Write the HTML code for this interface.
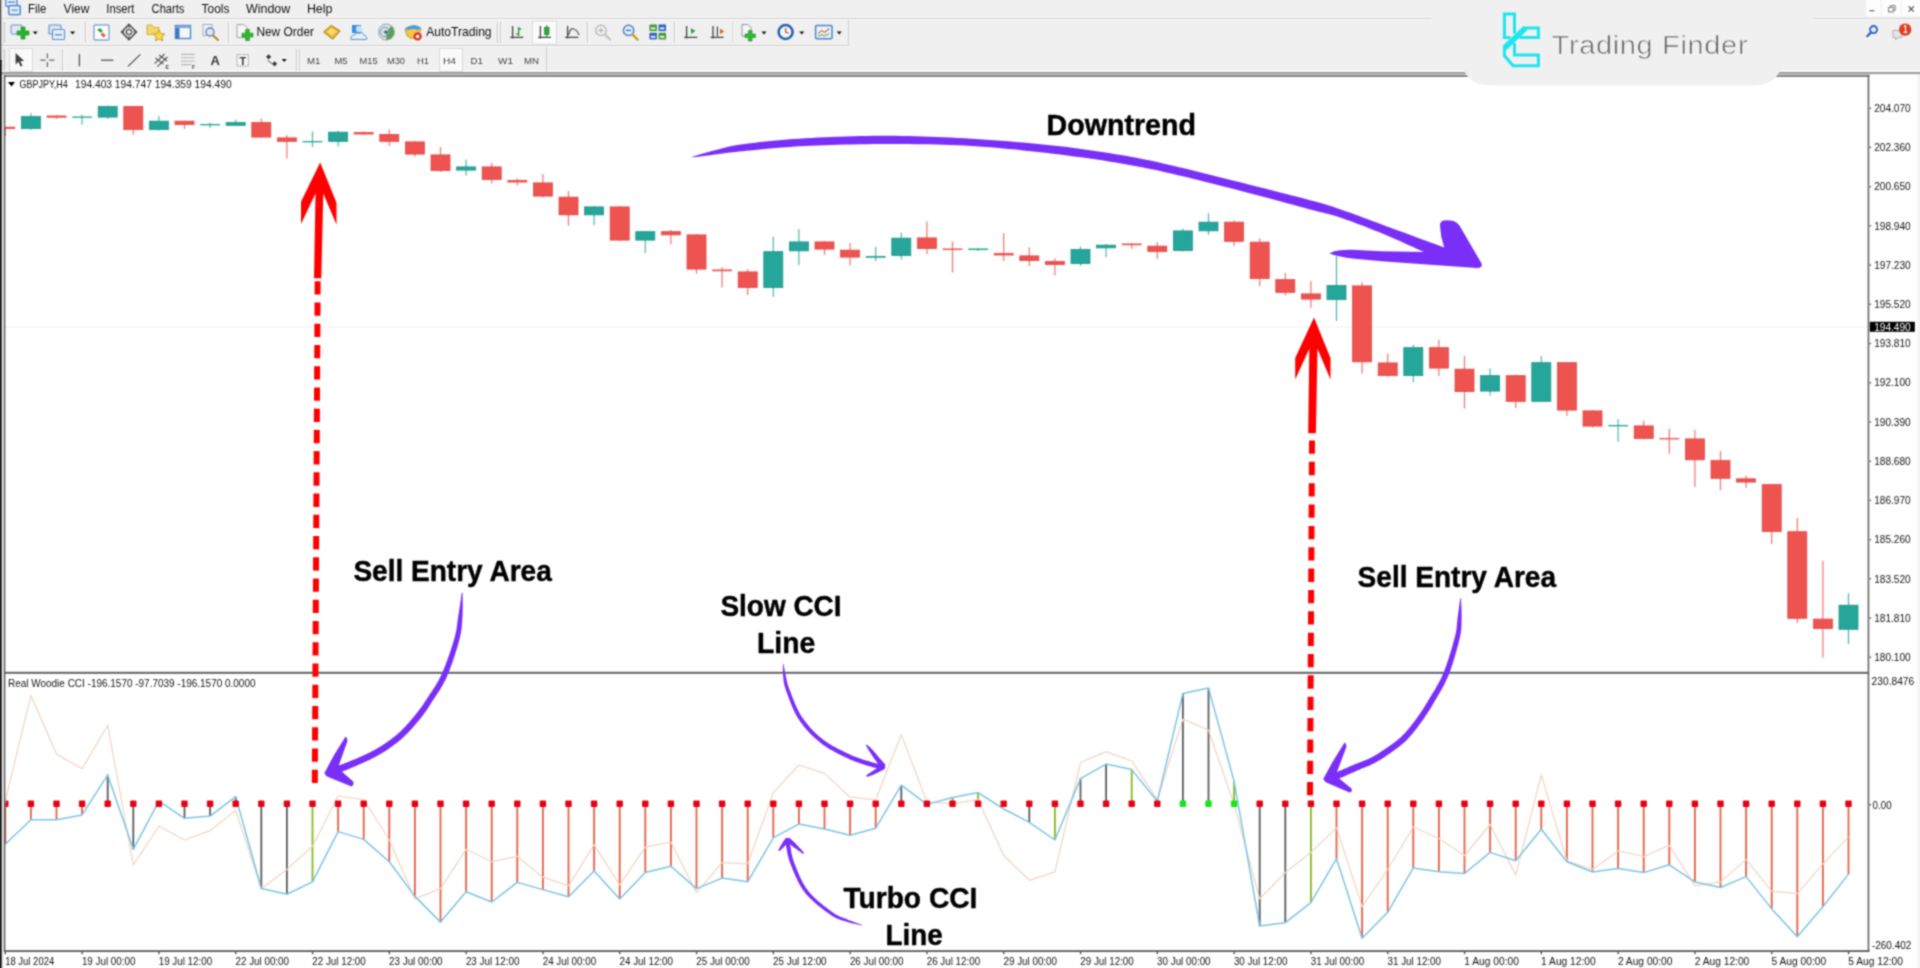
<!DOCTYPE html>
<html><head><meta charset="utf-8"><title>GBPJPY H4 - Real Woodie CCI</title>
<style>
html,body{margin:0;padding:0;background:#f0f0f0;overflow:hidden;}
body{width:1920px;height:968px;position:relative;font-family:"Liberation Sans",sans-serif;}
svg{position:absolute;left:0;top:0;display:block;}
svg text{font-family:"Liberation Sans",sans-serif;}
</style></head><body>
<svg width="1920" height="968" viewBox="0 0 1920 968">
<defs><filter id="soft" x="0" y="0" width="1920" height="968" filterUnits="userSpaceOnUse" color-interpolation-filters="sRGB"><feConvolveMatrix order="3" kernelMatrix="1 2 1 2 6 2 1 2 1" divisor="18" edgeMode="duplicate" preserveAlpha="true"/></filter></defs>
<g filter="url(#soft)">
<rect x="0" y="0" width="1920" height="968" fill="#f0f0f0"/>
<rect x="1869" y="74" width="48.6" height="894" fill="#fefefe"/>
<rect x="1917.6" y="74" width="2.4" height="894" fill="#f3f3f3"/>
<rect x="3.4" y="952" width="1914.2" height="16" fill="#fefefe"/>
<rect x="1.6" y="20" width="2.2" height="948" fill="#e9e9e9"/>
<rect x="5" y="76" width="1864" height="876" fill="#fff"/>
<rect x="5" y="326.6" width="1864" height="1" fill="#f1f1f1"/>
<rect x="4.7" y="126.75" width="1.2" height="9.25" fill="#ef5350" opacity=".82"/>
<rect x="5.5" y="126.75" width="9.7" height="2.25" fill="#ef5350"/>
<rect x="30.3" y="113" width="1.2" height="17" fill="#26a69a" opacity=".82"/>
<rect x="21.4" y="116.4" width="19" height="12.2" fill="#26a69a" stroke="#1f968b" stroke-width=".8"/>
<rect x="55.9" y="115" width="1.2" height="4" fill="#ef5350" opacity=".82"/>
<rect x="46.6" y="115.5" width="19.8" height="2.25" fill="#ef5350"/>
<rect x="81.5" y="114.75" width="1.2" height="10" fill="#26a69a" opacity=".82"/>
<rect x="72.2" y="116.5" width="19.8" height="1.35" fill="#26a69a"/>
<rect x="107.1" y="105.5" width="1.2" height="13.5" fill="#26a69a" opacity=".82"/>
<rect x="98.2" y="106.4" width="19" height="10.7" fill="#26a69a" stroke="#1f968b" stroke-width=".8"/>
<rect x="132.7" y="106" width="1.2" height="28.75" fill="#ef5350" opacity=".82"/>
<rect x="123.8" y="106.4" width="19" height="23.2" fill="#ef5350" stroke="#dc4946" stroke-width=".8"/>
<rect x="158.3" y="116" width="1.2" height="14.5" fill="#26a69a" opacity=".82"/>
<rect x="149.4" y="121.15" width="19" height="8.45" fill="#26a69a" stroke="#1f968b" stroke-width=".8"/>
<rect x="183.9" y="120.75" width="1.2" height="8.25" fill="#ef5350" opacity=".82"/>
<rect x="175" y="121.15" width="19" height="3.45" fill="#ef5350" stroke="#dc4946" stroke-width=".8"/>
<rect x="209.5" y="122.5" width="1.2" height="5.5" fill="#26a69a" opacity=".82"/>
<rect x="200.2" y="124" width="19.8" height="1.35" fill="#26a69a"/>
<rect x="235.1" y="119.5" width="1.2" height="6.25" fill="#26a69a" opacity=".82"/>
<rect x="226.2" y="122.4" width="19" height="2.95" fill="#26a69a" stroke="#1f968b" stroke-width=".8"/>
<rect x="260.7" y="118.5" width="1.2" height="19" fill="#ef5350" opacity=".82"/>
<rect x="251.8" y="122.4" width="19" height="14.7" fill="#ef5350" stroke="#dc4946" stroke-width=".8"/>
<rect x="286.3" y="135" width="1.2" height="23.5" fill="#ef5350" opacity=".82"/>
<rect x="277.4" y="137.9" width="19" height="3.45" fill="#ef5350" stroke="#dc4946" stroke-width=".8"/>
<rect x="311.9" y="131.5" width="1.2" height="15.5" fill="#26a69a" opacity=".82"/>
<rect x="302.6" y="141" width="19.8" height="1.35" fill="#26a69a"/>
<rect x="337.5" y="131" width="1.2" height="15.5" fill="#26a69a" opacity=".82"/>
<rect x="328.6" y="132.15" width="19" height="9.2" fill="#26a69a" stroke="#1f968b" stroke-width=".8"/>
<rect x="363.1" y="131.5" width="1.2" height="3.5" fill="#ef5350" opacity=".82"/>
<rect x="353.8" y="132" width="19.8" height="2.5" fill="#ef5350"/>
<rect x="388.7" y="129.5" width="1.2" height="16.5" fill="#ef5350" opacity=".82"/>
<rect x="379.8" y="134.4" width="19" height="6.95" fill="#ef5350" stroke="#dc4946" stroke-width=".8"/>
<rect x="414.3" y="141" width="1.2" height="15.5" fill="#ef5350" opacity=".82"/>
<rect x="405.4" y="141.9" width="19" height="12.2" fill="#ef5350" stroke="#dc4946" stroke-width=".8"/>
<rect x="439.9" y="147" width="1.2" height="25" fill="#ef5350" opacity=".82"/>
<rect x="431" y="154.9" width="19" height="15.7" fill="#ef5350" stroke="#dc4946" stroke-width=".8"/>
<rect x="465.5" y="159.5" width="1.2" height="16" fill="#26a69a" opacity=".82"/>
<rect x="456.6" y="166.9" width="19" height="3.2" fill="#26a69a" stroke="#1f968b" stroke-width=".8"/>
<rect x="491.1" y="162.75" width="1.2" height="20.75" fill="#ef5350" opacity=".82"/>
<rect x="482.2" y="166.9" width="19" height="12.7" fill="#ef5350" stroke="#dc4946" stroke-width=".8"/>
<rect x="516.7" y="178.5" width="1.2" height="7" fill="#ef5350" opacity=".82"/>
<rect x="507.4" y="180" width="19.8" height="2.5" fill="#ef5350"/>
<rect x="542.3" y="174" width="1.2" height="23.5" fill="#ef5350" opacity=".82"/>
<rect x="533.4" y="182.9" width="19" height="13.2" fill="#ef5350" stroke="#dc4946" stroke-width=".8"/>
<rect x="567.9" y="191" width="1.2" height="34.5" fill="#ef5350" opacity=".82"/>
<rect x="559" y="197.15" width="19" height="17.7" fill="#ef5350" stroke="#dc4946" stroke-width=".8"/>
<rect x="593.5" y="206" width="1.2" height="19" fill="#26a69a" opacity=".82"/>
<rect x="584.6" y="206.9" width="19" height="7.95" fill="#26a69a" stroke="#1f968b" stroke-width=".8"/>
<rect x="619.1" y="206" width="1.2" height="35" fill="#ef5350" opacity=".82"/>
<rect x="610.2" y="206.9" width="19" height="33.2" fill="#ef5350" stroke="#dc4946" stroke-width=".8"/>
<rect x="644.7" y="231" width="1.2" height="22" fill="#26a69a" opacity=".82"/>
<rect x="635.8" y="231.65" width="19" height="8.45" fill="#26a69a" stroke="#1f968b" stroke-width=".8"/>
<rect x="670.3" y="229.75" width="1.2" height="14.5" fill="#ef5350" opacity=".82"/>
<rect x="661.4" y="231.65" width="19" height="3.2" fill="#ef5350" stroke="#dc4946" stroke-width=".8"/>
<rect x="695.9" y="234" width="1.2" height="39.5" fill="#ef5350" opacity=".82"/>
<rect x="687" y="234.9" width="19" height="34.2" fill="#ef5350" stroke="#dc4946" stroke-width=".8"/>
<rect x="721.5" y="267.25" width="1.2" height="20.25" fill="#ef5350" opacity=".82"/>
<rect x="712.2" y="269.5" width="19.8" height="1.75" fill="#ef5350"/>
<rect x="747.1" y="269" width="1.2" height="26" fill="#ef5350" opacity=".82"/>
<rect x="738.2" y="271.9" width="19" height="15.7" fill="#ef5350" stroke="#dc4946" stroke-width=".8"/>
<rect x="772.7" y="236.75" width="1.2" height="60.25" fill="#26a69a" opacity=".82"/>
<rect x="763.8" y="251.65" width="19" height="35.95" fill="#26a69a" stroke="#1f968b" stroke-width=".8"/>
<rect x="798.3" y="229" width="1.2" height="36" fill="#26a69a" opacity=".82"/>
<rect x="789.4" y="241.9" width="19" height="8.95" fill="#26a69a" stroke="#1f968b" stroke-width=".8"/>
<rect x="823.9" y="241" width="1.2" height="14" fill="#ef5350" opacity=".82"/>
<rect x="815" y="241.9" width="19" height="7.2" fill="#ef5350" stroke="#dc4946" stroke-width=".8"/>
<rect x="849.5" y="243" width="1.2" height="22.5" fill="#ef5350" opacity=".82"/>
<rect x="840.6" y="250.15" width="19" height="6.95" fill="#ef5350" stroke="#dc4946" stroke-width=".8"/>
<rect x="875.1" y="246.75" width="1.2" height="14.25" fill="#26a69a" opacity=".82"/>
<rect x="865.8" y="256" width="19.8" height="1.75" fill="#26a69a"/>
<rect x="900.7" y="232.75" width="1.2" height="26.75" fill="#26a69a" opacity=".82"/>
<rect x="891.8" y="238.15" width="19" height="17.45" fill="#26a69a" stroke="#1f968b" stroke-width=".8"/>
<rect x="926.3" y="221.5" width="1.2" height="32.5" fill="#ef5350" opacity=".82"/>
<rect x="917.4" y="237.9" width="19" height="10.7" fill="#ef5350" stroke="#dc4946" stroke-width=".8"/>
<rect x="951.9" y="241.5" width="1.2" height="31" fill="#ef5350" opacity=".82"/>
<rect x="942.6" y="248.5" width="19.8" height="1.5" fill="#ef5350"/>
<rect x="977.5" y="247.75" width="1.2" height="3.25" fill="#26a69a" opacity=".82"/>
<rect x="968.2" y="248.5" width="19.8" height="1.5" fill="#26a69a"/>
<rect x="1003.1" y="233" width="1.2" height="28" fill="#ef5350" opacity=".82"/>
<rect x="993.8" y="253" width="19.8" height="2.5" fill="#ef5350"/>
<rect x="1028.7" y="247.25" width="1.2" height="18.75" fill="#ef5350" opacity=".82"/>
<rect x="1019.8" y="255.9" width="19" height="4.7" fill="#ef5350" stroke="#dc4946" stroke-width=".8"/>
<rect x="1054.3" y="258.5" width="1.2" height="17" fill="#ef5350" opacity=".82"/>
<rect x="1045.4" y="261.4" width="19" height="3.2" fill="#ef5350" stroke="#dc4946" stroke-width=".8"/>
<rect x="1079.9" y="246.5" width="1.2" height="19.5" fill="#26a69a" opacity=".82"/>
<rect x="1071" y="249.4" width="19" height="14.2" fill="#26a69a" stroke="#1f968b" stroke-width=".8"/>
<rect x="1105.5" y="244" width="1.2" height="13" fill="#26a69a" opacity=".82"/>
<rect x="1096.6" y="245.15" width="19" height="2.7" fill="#26a69a" stroke="#1f968b" stroke-width=".8"/>
<rect x="1131.1" y="243" width="1.2" height="6" fill="#ef5350" opacity=".82"/>
<rect x="1121.8" y="243.5" width="19.8" height="1.75" fill="#ef5350"/>
<rect x="1156.7" y="242" width="1.2" height="17" fill="#ef5350" opacity=".82"/>
<rect x="1147.8" y="246.15" width="19" height="5.45" fill="#ef5350" stroke="#dc4946" stroke-width=".8"/>
<rect x="1182.3" y="228.5" width="1.2" height="23" fill="#26a69a" opacity=".82"/>
<rect x="1173.4" y="230.9" width="19" height="19.7" fill="#26a69a" stroke="#1f968b" stroke-width=".8"/>
<rect x="1207.9" y="213.5" width="1.2" height="21.25" fill="#26a69a" opacity=".82"/>
<rect x="1199" y="222.15" width="19" height="8.7" fill="#26a69a" stroke="#1f968b" stroke-width=".8"/>
<rect x="1233.5" y="220.5" width="1.2" height="25.5" fill="#ef5350" opacity=".82"/>
<rect x="1224.6" y="222.15" width="19" height="19.2" fill="#ef5350" stroke="#dc4946" stroke-width=".8"/>
<rect x="1259.1" y="238.5" width="1.2" height="47.5" fill="#ef5350" opacity=".82"/>
<rect x="1250.2" y="242.15" width="19" height="36.45" fill="#ef5350" stroke="#dc4946" stroke-width=".8"/>
<rect x="1284.7" y="273" width="1.2" height="22.5" fill="#ef5350" opacity=".82"/>
<rect x="1275.8" y="279.65" width="19" height="12.7" fill="#ef5350" stroke="#dc4946" stroke-width=".8"/>
<rect x="1310.3" y="281" width="1.2" height="27" fill="#ef5350" opacity=".82"/>
<rect x="1301.4" y="293.9" width="19" height="5.2" fill="#ef5350" stroke="#dc4946" stroke-width=".8"/>
<rect x="1335.9" y="256" width="1.2" height="65" fill="#26a69a" opacity=".82"/>
<rect x="1327" y="285.4" width="19" height="14.2" fill="#26a69a" stroke="#1f968b" stroke-width=".8"/>
<rect x="1361.5" y="282.25" width="1.2" height="91.25" fill="#ef5350" opacity=".82"/>
<rect x="1352.6" y="285.9" width="19" height="75.95" fill="#ef5350" stroke="#dc4946" stroke-width=".8"/>
<rect x="1387.1" y="353.5" width="1.2" height="23" fill="#ef5350" opacity=".82"/>
<rect x="1378.2" y="362.9" width="19" height="12.7" fill="#ef5350" stroke="#dc4946" stroke-width=".8"/>
<rect x="1412.7" y="344.75" width="1.2" height="37.5" fill="#26a69a" opacity=".82"/>
<rect x="1403.8" y="347.65" width="19" height="27.95" fill="#26a69a" stroke="#1f968b" stroke-width=".8"/>
<rect x="1438.3" y="339.75" width="1.2" height="36.25" fill="#ef5350" opacity=".82"/>
<rect x="1429.4" y="347.65" width="19" height="20.45" fill="#ef5350" stroke="#dc4946" stroke-width=".8"/>
<rect x="1463.9" y="356" width="1.2" height="52.5" fill="#ef5350" opacity=".82"/>
<rect x="1455" y="369.15" width="19" height="22.45" fill="#ef5350" stroke="#dc4946" stroke-width=".8"/>
<rect x="1489.5" y="368.5" width="1.2" height="27" fill="#26a69a" opacity=".82"/>
<rect x="1480.6" y="375.65" width="19" height="15.45" fill="#26a69a" stroke="#1f968b" stroke-width=".8"/>
<rect x="1515.1" y="374.5" width="1.2" height="33.5" fill="#ef5350" opacity=".82"/>
<rect x="1506.2" y="375.65" width="19" height="25.7" fill="#ef5350" stroke="#dc4946" stroke-width=".8"/>
<rect x="1540.7" y="356" width="1.2" height="46" fill="#26a69a" opacity=".82"/>
<rect x="1531.8" y="362.65" width="19" height="38.7" fill="#26a69a" stroke="#1f968b" stroke-width=".8"/>
<rect x="1566.3" y="362" width="1.2" height="54" fill="#ef5350" opacity=".82"/>
<rect x="1557.4" y="362.65" width="19" height="47.45" fill="#ef5350" stroke="#dc4946" stroke-width=".8"/>
<rect x="1591.9" y="410" width="1.2" height="17.5" fill="#ef5350" opacity=".82"/>
<rect x="1583" y="410.9" width="19" height="15.2" fill="#ef5350" stroke="#dc4946" stroke-width=".8"/>
<rect x="1617.5" y="419" width="1.2" height="22.7" fill="#26a69a" opacity=".82"/>
<rect x="1608.2" y="425" width="19.8" height="1.35" fill="#26a69a"/>
<rect x="1643.1" y="420.6" width="1.2" height="18.9" fill="#ef5350" opacity=".82"/>
<rect x="1634.2" y="425.9" width="19" height="12.5" fill="#ef5350" stroke="#dc4946" stroke-width=".8"/>
<rect x="1668.7" y="428.7" width="1.2" height="25.1" fill="#ef5350" opacity=".82"/>
<rect x="1659.4" y="438" width="19.8" height="1.35" fill="#ef5350"/>
<rect x="1694.3" y="429.8" width="1.2" height="57.2" fill="#ef5350" opacity=".82"/>
<rect x="1685.4" y="438.9" width="19" height="20.9" fill="#ef5350" stroke="#dc4946" stroke-width=".8"/>
<rect x="1719.9" y="451" width="1.2" height="39" fill="#ef5350" opacity=".82"/>
<rect x="1711" y="460.6" width="19" height="17.7" fill="#ef5350" stroke="#dc4946" stroke-width=".8"/>
<rect x="1745.5" y="475.5" width="1.2" height="12.5" fill="#ef5350" opacity=".82"/>
<rect x="1736.6" y="478.8" width="19" height="3.3" fill="#ef5350" stroke="#dc4946" stroke-width=".8"/>
<rect x="1771.1" y="484" width="1.2" height="60" fill="#ef5350" opacity=".82"/>
<rect x="1762.2" y="484.6" width="19" height="47" fill="#ef5350" stroke="#dc4946" stroke-width=".8"/>
<rect x="1796.7" y="518" width="1.2" height="105" fill="#ef5350" opacity=".82"/>
<rect x="1787.8" y="531.7" width="19" height="86.6" fill="#ef5350" stroke="#dc4946" stroke-width=".8"/>
<rect x="1822.3" y="560.8" width="1.2" height="96.9" fill="#ef5350" opacity=".82"/>
<rect x="1813.4" y="619.1" width="19" height="9.5" fill="#ef5350" stroke="#dc4946" stroke-width=".8"/>
<rect x="1847.9" y="593.2" width="1.2" height="50.8" fill="#26a69a" opacity=".82"/>
<rect x="1839" y="605.2" width="19" height="24.1" fill="#26a69a" stroke="#1f968b" stroke-width=".8"/>
<rect x="4.4" y="803.8" width="1.8" height="40.2" fill="#e55f45"/>
<rect x="30" y="803.8" width="1.8" height="16" fill="#e55f45"/>
<rect x="55.6" y="803.8" width="1.8" height="16" fill="#e55f45"/>
<rect x="81.2" y="803.8" width="1.8" height="11.1" fill="#e55f45"/>
<rect x="106.8" y="774.9" width="1.8" height="28.9" fill="#5c5c5c"/>
<rect x="132.4" y="803.8" width="1.8" height="45.5" fill="#5c5c5c"/>
<rect x="183.6" y="803.8" width="1.8" height="14.5" fill="#5c5c5c"/>
<rect x="209.2" y="803.8" width="1.8" height="12.3" fill="#5c5c5c"/>
<rect x="234.8" y="796.6" width="1.8" height="7.2" fill="#5c5c5c"/>
<rect x="260.4" y="803.8" width="1.8" height="84.8" fill="#5c5c5c"/>
<rect x="286" y="803.8" width="1.8" height="90.4" fill="#5c5c5c"/>
<rect x="311.6" y="803.8" width="1.8" height="78" fill="#86b91a"/>
<rect x="337.2" y="803.8" width="1.8" height="27.8" fill="#e55f45"/>
<rect x="362.8" y="803.8" width="1.8" height="35.6" fill="#e55f45"/>
<rect x="388.4" y="803.8" width="1.8" height="57.9" fill="#e55f45"/>
<rect x="414" y="803.8" width="1.8" height="92.6" fill="#e55f45"/>
<rect x="439.6" y="803.8" width="1.8" height="118.3" fill="#e55f45"/>
<rect x="465.2" y="803.8" width="1.8" height="87.9" fill="#e55f45"/>
<rect x="490.8" y="803.8" width="1.8" height="98.2" fill="#e55f45"/>
<rect x="516.4" y="803.8" width="1.8" height="78.6" fill="#e55f45"/>
<rect x="542" y="803.8" width="1.8" height="85.8" fill="#e55f45"/>
<rect x="567.6" y="803.8" width="1.8" height="92.9" fill="#e55f45"/>
<rect x="593.2" y="803.8" width="1.8" height="67.2" fill="#e55f45"/>
<rect x="618.8" y="803.8" width="1.8" height="95.1" fill="#e55f45"/>
<rect x="644.4" y="803.8" width="1.8" height="68.7" fill="#e55f45"/>
<rect x="670" y="803.8" width="1.8" height="62.5" fill="#e55f45"/>
<rect x="695.6" y="803.8" width="1.8" height="84.8" fill="#e55f45"/>
<rect x="721.2" y="803.8" width="1.8" height="74.3" fill="#e55f45"/>
<rect x="746.8" y="803.8" width="1.8" height="78" fill="#e55f45"/>
<rect x="772.4" y="803.8" width="1.8" height="34" fill="#e55f45"/>
<rect x="798" y="803.8" width="1.8" height="20.1" fill="#e55f45"/>
<rect x="823.6" y="803.8" width="1.8" height="25.3" fill="#e55f45"/>
<rect x="849.2" y="803.8" width="1.8" height="31.5" fill="#e55f45"/>
<rect x="874.8" y="803.8" width="1.8" height="24.4" fill="#e55f45"/>
<rect x="900.4" y="785.1" width="1.8" height="18.7" fill="#5c5c5c"/>
<rect x="951.6" y="797.5" width="1.8" height="6.3" fill="#86b91a"/>
<rect x="977.2" y="792.6" width="1.8" height="11.2" fill="#86b91a"/>
<rect x="1028.4" y="803.8" width="1.8" height="18.5" fill="#5c5c5c"/>
<rect x="1054" y="803.8" width="1.8" height="36.2" fill="#86b91a"/>
<rect x="1079.6" y="778.6" width="1.8" height="25.2" fill="#5c5c5c"/>
<rect x="1105.2" y="764.1" width="1.8" height="39.7" fill="#5c5c5c"/>
<rect x="1130.8" y="769.6" width="1.8" height="34.2" fill="#86b91a"/>
<rect x="1182" y="693.4" width="1.8" height="110.4" fill="#5c5c5c"/>
<rect x="1207.6" y="688.1" width="1.8" height="115.7" fill="#5c5c5c"/>
<rect x="1233.2" y="781.1" width="1.8" height="22.7" fill="#86b91a"/>
<rect x="1258.8" y="803.8" width="1.8" height="122.3" fill="#5c5c5c"/>
<rect x="1284.4" y="803.8" width="1.8" height="118.9" fill="#5c5c5c"/>
<rect x="1310" y="803.8" width="1.8" height="98.8" fill="#86b91a"/>
<rect x="1335.6" y="803.8" width="1.8" height="54.8" fill="#e55f45"/>
<rect x="1361.2" y="803.8" width="1.8" height="134.4" fill="#e55f45"/>
<rect x="1386.8" y="803.8" width="1.8" height="108.5" fill="#e55f45"/>
<rect x="1412.4" y="803.8" width="1.8" height="64.1" fill="#e55f45"/>
<rect x="1438" y="803.8" width="1.8" height="67.9" fill="#e55f45"/>
<rect x="1463.6" y="803.8" width="1.8" height="69.7" fill="#e55f45"/>
<rect x="1489.2" y="803.8" width="1.8" height="48.6" fill="#e55f45"/>
<rect x="1514.8" y="803.8" width="1.8" height="57" fill="#e55f45"/>
<rect x="1540.4" y="803.8" width="1.8" height="25.4" fill="#e55f45"/>
<rect x="1566" y="803.8" width="1.8" height="57.9" fill="#e55f45"/>
<rect x="1591.6" y="803.8" width="1.8" height="68.2" fill="#e55f45"/>
<rect x="1617.2" y="803.8" width="1.8" height="64.8" fill="#e55f45"/>
<rect x="1642.8" y="803.8" width="1.8" height="68.8" fill="#e55f45"/>
<rect x="1668.4" y="803.8" width="1.8" height="61" fill="#e55f45"/>
<rect x="1694" y="803.8" width="1.8" height="78.1" fill="#e55f45"/>
<rect x="1719.6" y="803.8" width="1.8" height="83.7" fill="#e55f45"/>
<rect x="1745.2" y="803.8" width="1.8" height="72.8" fill="#e55f45"/>
<rect x="1770.8" y="803.8" width="1.8" height="105.1" fill="#e55f45"/>
<rect x="1796.4" y="803.8" width="1.8" height="133" fill="#e55f45"/>
<rect x="1822" y="803.8" width="1.8" height="102.9" fill="#e55f45"/>
<rect x="1847.6" y="803.8" width="1.8" height="70.3" fill="#e55f45"/>
<polyline fill="none" stroke="#f1d5c0" stroke-width="1.25" stroke-linejoin="round" points="5.5,800 30.9,695.3 56.5,754.1 82.1,768.7 107.7,725.3 133.3,864.8 158.9,826 184.5,840 210.1,830.7 235.7,810.5 261.3,888.6 286.9,869.4 312.5,846.2 338.1,796 363.7,799.7 389.3,840 414.9,898.9 440.5,888.6 466.1,849.3 491.7,861.7 517.3,856.4 542.9,877.2 568.5,885.9 594.1,844.6 619.7,884.9 645.3,847.1 670.9,842.2 696.5,892.7 722.1,862.6 747.7,863.9 773.3,792.6 798.9,765 824.5,773.4 850.1,797.2 875.7,799.7 901.3,734.6 926.9,801.9 952.5,803.7 978.1,799.7 1003.7,855.5 1029.3,880.3 1054.9,871.9 1080.5,762.5 1106.1,751.7 1131.7,761 1157.3,799.7 1182.9,719.1 1208.5,730 1234.1,804.4 1259.7,898.9 1285.3,872.5 1310.9,852.4 1336.5,827.6 1362.1,906.6 1387.7,869.5 1413.3,827 1438.9,838.5 1464.5,855.5 1490.1,824.5 1515.7,875.1 1541.3,774.9 1566.9,860.8 1592.5,869.5 1618.1,850.9 1643.7,856.5 1669.3,845.3 1694.9,885.9 1720.5,881.9 1746.1,859.6 1771.7,891.2 1797.3,893.7 1822.9,863.9 1848.5,836.9"/>
<polyline fill="none" stroke="#7cc4e6" stroke-width="1.5" stroke-linejoin="round" points="5.5,844 30.9,819.8 56.5,819.8 82.1,814.9 107.7,774.9 133.3,849.3 158.9,801.2 184.5,818.3 210.1,816.1 235.7,796.6 261.3,888.6 286.9,894.2 312.5,881.8 338.1,831.6 363.7,839.4 389.3,861.7 414.9,896.4 440.5,922.1 466.1,891.7 491.7,902 517.3,882.4 542.9,889.6 568.5,896.7 594.1,871 619.7,898.9 645.3,872.5 670.9,866.3 696.5,888.6 722.1,878.1 747.7,881.8 773.3,837.8 798.9,823.9 824.5,829.1 850.1,835.3 875.7,828.2 901.3,785.1 926.9,804.4 952.5,797.5 978.1,792.6 1003.7,809 1029.3,822.3 1054.9,840 1080.5,778.6 1106.1,764.1 1131.7,769.6 1157.3,801.2 1182.9,693.4 1208.5,688.1 1234.1,781.1 1259.7,926.1 1285.3,922.7 1310.9,902.6 1336.5,858.6 1362.1,938.2 1387.7,912.3 1413.3,867.9 1438.9,871.7 1464.5,873.5 1490.1,852.4 1515.7,860.8 1541.3,829.2 1566.9,861.7 1592.5,872 1618.1,868.6 1643.7,872.6 1669.3,864.8 1694.9,881.9 1720.5,887.5 1746.1,876.6 1771.7,908.9 1797.3,936.8 1822.9,906.7 1848.5,874.1"/>
<rect x="5.5" y="800.6" width="3" height="6.4" rx="1" fill="#e60012"/>
<rect x="27.7" y="800.6" width="6.4" height="6.4" rx="1" fill="#e60012"/>
<rect x="53.3" y="800.6" width="6.4" height="6.4" rx="1" fill="#e60012"/>
<rect x="78.9" y="800.6" width="6.4" height="6.4" rx="1" fill="#e60012"/>
<rect x="104.5" y="800.6" width="6.4" height="6.4" rx="1" fill="#e60012"/>
<rect x="130.1" y="800.6" width="6.4" height="6.4" rx="1" fill="#e60012"/>
<rect x="155.7" y="800.6" width="6.4" height="6.4" rx="1" fill="#e60012"/>
<rect x="181.3" y="800.6" width="6.4" height="6.4" rx="1" fill="#e60012"/>
<rect x="206.9" y="800.6" width="6.4" height="6.4" rx="1" fill="#e60012"/>
<rect x="232.5" y="800.6" width="6.4" height="6.4" rx="1" fill="#e60012"/>
<rect x="258.1" y="800.6" width="6.4" height="6.4" rx="1" fill="#e60012"/>
<rect x="283.7" y="800.6" width="6.4" height="6.4" rx="1" fill="#e60012"/>
<rect x="309.3" y="800.6" width="6.4" height="6.4" rx="1" fill="#e60012"/>
<rect x="334.9" y="800.6" width="6.4" height="6.4" rx="1" fill="#e60012"/>
<rect x="360.5" y="800.6" width="6.4" height="6.4" rx="1" fill="#e60012"/>
<rect x="386.1" y="800.6" width="6.4" height="6.4" rx="1" fill="#e60012"/>
<rect x="411.7" y="800.6" width="6.4" height="6.4" rx="1" fill="#e60012"/>
<rect x="437.3" y="800.6" width="6.4" height="6.4" rx="1" fill="#e60012"/>
<rect x="462.9" y="800.6" width="6.4" height="6.4" rx="1" fill="#e60012"/>
<rect x="488.5" y="800.6" width="6.4" height="6.4" rx="1" fill="#e60012"/>
<rect x="514.1" y="800.6" width="6.4" height="6.4" rx="1" fill="#e60012"/>
<rect x="539.7" y="800.6" width="6.4" height="6.4" rx="1" fill="#e60012"/>
<rect x="565.3" y="800.6" width="6.4" height="6.4" rx="1" fill="#e60012"/>
<rect x="590.9" y="800.6" width="6.4" height="6.4" rx="1" fill="#e60012"/>
<rect x="616.5" y="800.6" width="6.4" height="6.4" rx="1" fill="#e60012"/>
<rect x="642.1" y="800.6" width="6.4" height="6.4" rx="1" fill="#e60012"/>
<rect x="667.7" y="800.6" width="6.4" height="6.4" rx="1" fill="#e60012"/>
<rect x="693.3" y="800.6" width="6.4" height="6.4" rx="1" fill="#e60012"/>
<rect x="718.9" y="800.6" width="6.4" height="6.4" rx="1" fill="#e60012"/>
<rect x="744.5" y="800.6" width="6.4" height="6.4" rx="1" fill="#e60012"/>
<rect x="770.1" y="800.6" width="6.4" height="6.4" rx="1" fill="#e60012"/>
<rect x="795.7" y="800.6" width="6.4" height="6.4" rx="1" fill="#e60012"/>
<rect x="821.3" y="800.6" width="6.4" height="6.4" rx="1" fill="#e60012"/>
<rect x="846.9" y="800.6" width="6.4" height="6.4" rx="1" fill="#e60012"/>
<rect x="872.5" y="800.6" width="6.4" height="6.4" rx="1" fill="#e60012"/>
<rect x="898.1" y="800.6" width="6.4" height="6.4" rx="1" fill="#e60012"/>
<rect x="923.7" y="800.6" width="6.4" height="6.4" rx="1" fill="#e60012"/>
<rect x="949.3" y="800.6" width="6.4" height="6.4" rx="1" fill="#e60012"/>
<rect x="974.9" y="800.6" width="6.4" height="6.4" rx="1" fill="#e60012"/>
<rect x="1000.5" y="800.6" width="6.4" height="6.4" rx="1" fill="#e60012"/>
<rect x="1026.1" y="800.6" width="6.4" height="6.4" rx="1" fill="#e60012"/>
<rect x="1051.7" y="800.6" width="6.4" height="6.4" rx="1" fill="#e60012"/>
<rect x="1077.3" y="800.6" width="6.4" height="6.4" rx="1" fill="#e60012"/>
<rect x="1102.9" y="800.6" width="6.4" height="6.4" rx="1" fill="#e60012"/>
<rect x="1128.5" y="800.6" width="6.4" height="6.4" rx="1" fill="#e60012"/>
<rect x="1154.1" y="800.6" width="6.4" height="6.4" rx="1" fill="#e60012"/>
<rect x="1179.7" y="800.6" width="6.4" height="6.4" rx="1" fill="#10e81c"/>
<rect x="1205.3" y="800.6" width="6.4" height="6.4" rx="1" fill="#10e81c"/>
<rect x="1230.9" y="800.6" width="6.4" height="6.4" rx="1" fill="#10e81c"/>
<rect x="1256.5" y="800.6" width="6.4" height="6.4" rx="1" fill="#e60012"/>
<rect x="1282.1" y="800.6" width="6.4" height="6.4" rx="1" fill="#e60012"/>
<rect x="1307.7" y="800.6" width="6.4" height="6.4" rx="1" fill="#e60012"/>
<rect x="1333.3" y="800.6" width="6.4" height="6.4" rx="1" fill="#e60012"/>
<rect x="1358.9" y="800.6" width="6.4" height="6.4" rx="1" fill="#e60012"/>
<rect x="1384.5" y="800.6" width="6.4" height="6.4" rx="1" fill="#e60012"/>
<rect x="1410.1" y="800.6" width="6.4" height="6.4" rx="1" fill="#e60012"/>
<rect x="1435.7" y="800.6" width="6.4" height="6.4" rx="1" fill="#e60012"/>
<rect x="1461.3" y="800.6" width="6.4" height="6.4" rx="1" fill="#e60012"/>
<rect x="1486.9" y="800.6" width="6.4" height="6.4" rx="1" fill="#e60012"/>
<rect x="1512.5" y="800.6" width="6.4" height="6.4" rx="1" fill="#e60012"/>
<rect x="1538.1" y="800.6" width="6.4" height="6.4" rx="1" fill="#e60012"/>
<rect x="1563.7" y="800.6" width="6.4" height="6.4" rx="1" fill="#e60012"/>
<rect x="1589.3" y="800.6" width="6.4" height="6.4" rx="1" fill="#e60012"/>
<rect x="1614.9" y="800.6" width="6.4" height="6.4" rx="1" fill="#e60012"/>
<rect x="1640.5" y="800.6" width="6.4" height="6.4" rx="1" fill="#e60012"/>
<rect x="1666.1" y="800.6" width="6.4" height="6.4" rx="1" fill="#e60012"/>
<rect x="1691.7" y="800.6" width="6.4" height="6.4" rx="1" fill="#e60012"/>
<rect x="1717.3" y="800.6" width="6.4" height="6.4" rx="1" fill="#e60012"/>
<rect x="1742.9" y="800.6" width="6.4" height="6.4" rx="1" fill="#e60012"/>
<rect x="1768.5" y="800.6" width="6.4" height="6.4" rx="1" fill="#e60012"/>
<rect x="1794.1" y="800.6" width="6.4" height="6.4" rx="1" fill="#e60012"/>
<rect x="1819.7" y="800.6" width="6.4" height="6.4" rx="1" fill="#e60012"/>
<rect x="1845.3" y="800.6" width="6.4" height="6.4" rx="1" fill="#e60012"/>
<rect x="0" y="70.2" width="1920" height="1.5" fill="#fafafa"/>
<rect x="0" y="72" width="1920" height="2.1" fill="#9e9e9e"/>
<rect x="0" y="74.1" width="1870" height="1" fill="#cfcfcf"/>
<rect x="4" y="75" width="1865.4" height="2" fill="#868686"/>
<rect x="3.9" y="75" width="1.4" height="877" fill="#555"/>
<rect x="1867.6" y="75" width="1.7" height="877" fill="#6c6c6c"/>
<rect x="5" y="671.8" width="1864" height="2" fill="#636363"/>
<rect x="4" y="950.2" width="1865.4" height="1.8" fill="#5c5c5c"/>
<path fill="#fe0000" d="M320.2,162.4 L336.5,202.7 L336.5,224.8 L323.3,193.6 L321.3,278.2 L314,278.2 L315.5,193.6 L301,224 L301,201.7Z"/>
<line x1="317.65" y1="281.2" x2="314.8" y2="783.4" stroke="#fe0000" stroke-width="6" stroke-dasharray="13.3 7.94"/>
<path fill="#fe0000" d="M1314,317.6 L1330.5,357.9 L1330.5,379.5 L1317.5,348.8 L1315.9,433.3 L1308.2,433.3 L1309.3,348.8 L1295.2,379.5 L1295.2,357.9Z"/>
<line x1="1312" y1="440.5" x2="1310" y2="795.3" stroke="#fe0000" stroke-width="6" stroke-dasharray="13.3 8.05"/>
<path fill="#7a2ff8" d="M692.5,156.6 L693.57,156.29 L694.89,155.9 L696.43,155.44 L698.15,154.93 L700.03,154.37 L702.03,153.77 L704.13,153.16 L706.3,152.54 L708.5,151.92 L710.7,151.32 L712.88,150.74 L715,150.2 L717.01,149.69 L718.89,149.18 L720.7,148.67 L722.5,148.17 L724.33,147.67 L726.25,147.17 L728.31,146.67 L730.56,146.18 L733.05,145.68 L735.83,145.19 L738.97,144.7 L742.5,144.2 L746.42,143.69 L750.65,143.17 L755.18,142.64 L759.97,142.1 L765.01,141.56 L770.26,141.03 L775.71,140.51 L781.33,140.01 L787.09,139.53 L792.97,139.09 L798.95,138.67 L805,138.3 L811.21,137.96 L817.68,137.62 L824.36,137.31 L831.22,137.01 L838.23,136.74 L845.34,136.5 L852.53,136.28 L859.76,136.1 L866.98,135.96 L874.17,135.86 L881.29,135.81 L888.3,135.8 L895.23,135.84 L902.14,135.92 L909.03,136.05 L915.91,136.21 L922.79,136.41 L929.69,136.65 L936.6,136.92 L943.53,137.23 L950.5,137.56 L957.52,137.93 L964.58,138.33 L971.7,138.75 L978.9,139.2 L986.19,139.67 L993.55,140.18 L1000.96,140.71 L1008.4,141.28 L1015.86,141.88 L1023.31,142.51 L1030.76,143.18 L1038.16,143.89 L1045.52,144.63 L1052.8,145.42 L1060,146.25 L1067.12,147.12 L1074.17,148.01 L1081.17,148.94 L1088.13,149.91 L1095.06,150.91 L1101.96,151.96 L1108.84,153.04 L1115.71,154.17 L1122.59,155.35 L1129.47,156.58 L1136.37,157.86 L1143.3,159.2 L1150.25,160.61 L1157.2,162.09 L1164.15,163.64 L1171.1,165.24 L1178.05,166.89 L1185,168.58 L1191.95,170.3 L1198.9,172.04 L1205.85,173.79 L1212.8,175.54 L1219.75,177.28 L1226.7,179 L1233.81,180.76 L1241.21,182.59 L1248.78,184.49 L1256.45,186.41 L1264.11,188.35 L1271.69,190.28 L1279.08,192.16 L1286.19,193.99 L1292.93,195.72 L1299.2,197.36 L1304.92,198.86 L1310,200.2 L1314.3,201.35 L1317.85,202.3 L1320.78,203.09 L1323.21,203.76 L1325.27,204.34 L1327.08,204.88 L1328.78,205.41 L1330.49,205.96 L1332.34,206.58 L1334.46,207.3 L1336.97,208.16 L1340,209.2 L1343.45,210.39 L1347.13,211.69 L1351,213.08 L1355.03,214.55 L1359.2,216.08 L1363.49,217.66 L1367.86,219.28 L1372.28,220.93 L1376.74,222.59 L1381.19,224.24 L1385.62,225.89 L1390,227.5 L1394.54,229.17 L1399.42,230.97 L1404.53,232.85 L1409.76,234.78 L1415.03,236.73 L1420.22,238.64 L1425.25,240.5 L1429.99,242.25 L1434.36,243.87 L1438.25,245.3 L1441.57,246.53 L1444.2,247.5 L1441.25,236.7 L1440,226 Q1439.6,221.6 1443.4,220.5 Q1448.3,219.6 1453.6,221 Q1457.6,222.4 1459.8,226 L1481.6,263.6 Q1482.6,266.4 1480,267.4 Q1478.6,268 1476.5,267.9 L1423.3,264.2 L1381.7,261.25 L1352,258.4 Q1338,256.6 1329.2,253.5 Q1334,250.6 1340,250.3 Q1346,249.6 1352.5,249.8 L1381.7,251.25  L1424.2,252.1 L1422.14,251.18 L1419.57,250.02 L1416.54,248.65 L1413.15,247.11 L1409.46,245.45 L1405.56,243.69 L1401.5,241.87 L1397.38,240.04 L1393.26,238.23 L1389.23,236.48 L1385.35,234.82 L1381.7,233.3 L1378.16,231.85 L1374.57,230.4 L1370.94,228.96 L1367.31,227.53 L1363.68,226.11 L1360.07,224.73 L1356.51,223.39 L1353,222.09 L1349.58,220.84 L1346.26,219.65 L1343.06,218.54 L1340,217.5 L1337.26,216.6 L1334.94,215.87 L1332.93,215.26 L1331.11,214.75 L1329.37,214.29 L1327.6,213.84 L1325.69,213.38 L1323.51,212.85 L1320.97,212.23 L1317.95,211.47 L1314.33,210.54 L1310,209.4 L1304.92,208.04 L1299.2,206.5 L1292.93,204.81 L1286.19,202.99 L1279.08,201.07 L1271.69,199.08 L1264.11,197.05 L1256.45,195.01 L1248.78,192.99 L1241.21,191.01 L1233.81,189.11 L1226.7,187.3 L1219.75,185.55 L1212.8,183.79 L1205.85,182.03 L1198.9,180.27 L1191.95,178.54 L1185,176.83 L1178.05,175.14 L1171.1,173.5 L1164.15,171.91 L1157.2,170.37 L1150.25,168.9 L1143.3,167.5 L1136.37,166.17 L1129.47,164.9 L1122.59,163.69 L1115.71,162.53 L1108.84,161.42 L1101.96,160.35 L1095.06,159.32 L1088.13,158.33 L1081.17,157.36 L1074.17,156.42 L1067.12,155.5 L1060,154.6 L1052.8,153.71 L1045.52,152.84 L1038.16,151.99 L1030.76,151.17 L1023.31,150.38 L1015.86,149.62 L1008.4,148.9 L1000.96,148.22 L993.55,147.59 L986.19,147 L978.9,146.47 L971.7,146 L964.58,145.59 L957.52,145.24 L950.5,144.94 L943.53,144.7 L936.6,144.5 L929.69,144.34 L922.79,144.22 L915.91,144.13 L909.03,144.06 L902.14,144.03 L895.23,144.01 L888.3,144 L881.29,144.02 L874.17,144.06 L866.98,144.14 L859.76,144.25 L852.53,144.39 L845.34,144.55 L838.23,144.73 L831.22,144.94 L824.36,145.18 L817.68,145.43 L811.21,145.71 L805,146 L798.95,146.33 L792.97,146.71 L787.09,147.13 L781.33,147.58 L775.71,148.05 L770.26,148.54 L765.01,149.03 L759.97,149.52 L755.18,149.99 L750.65,150.45 L746.42,150.87 L742.5,151.25 L738.97,151.6 L735.83,151.92 L733.05,152.23 L730.56,152.53 L728.31,152.81 L726.25,153.08 L724.33,153.34 L722.5,153.59 L720.7,153.85 L718.89,154.1 L717.01,154.35 L715,154.6 L712.88,154.86 L710.7,155.13 L708.5,155.4 L706.3,155.68 L704.13,155.95 L702.03,156.21 L700.03,156.46 L698.15,156.69 L696.43,156.91 L694.89,157.1 L693.57,157.27 L692.5,157.4Z"/>
<path fill="#7a2ff8" d="M461.8,592.67 L461.66,593.61 L461.49,594.77 L461.29,596.11 L461.07,597.6 L460.83,599.24 L460.58,600.98 L460.31,602.8 L460.03,604.69 L459.74,606.6 L459.45,608.52 L459.16,610.43 L458.87,612.28 L458.59,614.07 L458.31,615.77 L458.06,617.41 L457.84,619 L457.63,620.55 L457.45,622.07 L457.26,623.57 L457.07,625.07 L456.87,626.57 L456.64,628.1 L456.38,629.67 L456.09,631.3 L455.74,633 L455.33,634.8 L454.85,636.7 L454.29,638.72 L453.65,640.91 L452.92,643.29 L452.13,645.81 L451.28,648.44 L450.38,651.17 L449.43,653.95 L448.45,656.76 L447.45,659.57 L446.42,662.35 L445.39,665.08 L444.36,667.71 L443.34,670.24 L442.33,672.61 L441.36,674.81 L440.39,676.86 L439.39,678.83 L438.38,680.73 L437.34,682.56 L436.3,684.34 L435.24,686.05 L434.18,687.72 L433.12,689.34 L432.07,690.92 L431.03,692.47 L430,693.98 L429,695.47 L428.02,696.94 L427.08,698.38 L426.2,699.74 L425.37,701.01 L424.6,702.2 L423.85,703.33 L423.14,704.4 L422.44,705.43 L421.75,706.43 L421.06,707.4 L420.37,708.37 L419.65,709.35 L418.9,710.35 L418.11,711.37 L417.27,712.44 L416.37,713.57 L415.42,714.75 L414.42,715.97 L413.39,717.22 L412.32,718.5 L411.23,719.79 L410.12,721.08 L408.99,722.38 L407.85,723.66 L406.71,724.93 L405.56,726.17 L404.43,727.39 L403.3,728.55 L402.19,729.67 L401.11,730.74 L400.04,731.75 L398.96,732.74 L397.89,733.7 L396.81,734.63 L395.74,735.53 L394.66,736.41 L393.58,737.27 L392.5,738.12 L391.41,738.94 L390.33,739.75 L389.24,740.55 L388.15,741.33 L387.06,742.11 L385.96,742.88 L384.88,743.62 L383.81,744.35 L382.73,745.05 L381.65,745.74 L380.57,746.41 L379.49,747.06 L378.41,747.71 L377.33,748.34 L376.24,748.96 L375.15,749.57 L374.06,750.17 L372.97,750.76 L371.87,751.35 L370.78,751.93 L369.69,752.49 L368.62,753.04 L367.53,753.57 L366.45,754.09 L365.36,754.6 L364.27,755.1 L363.18,755.59 L362.09,756.08 L360.99,756.56 L359.89,757.04 L358.79,757.51 L357.69,757.98 L356.58,758.45 L355.48,758.92 L354.36,759.39 L353.23,759.86 L352.08,760.33 L350.91,760.81 L349.74,761.28 L348.57,761.74 L347.41,762.19 L346.26,762.64 L345.14,763.07 L344.04,763.49 L342.98,763.89 L341.96,764.27 L341,764.63 L340.09,764.97 L339.24,765.28 L338.41,765.57 L337.6,765.85 L336.81,766.12 L336.05,766.37 L335.32,766.6 L334.62,766.82 L333.96,767.03 L333.34,767.22 L332.76,767.4 L332.22,767.56 L331.73,767.71 L331.29,767.85 L330.91,767.97 L333.09,774.63 L333.43,774.51 L333.84,774.38 L334.31,774.23 L334.84,774.06 L335.42,773.88 L336.06,773.67 L336.74,773.45 L337.47,773.22 L338.23,772.96 L339.03,772.69 L339.86,772.4 L340.72,772.09 L341.61,771.77 L342.51,771.43 L343.43,771.08 L344.41,770.7 L345.44,770.3 L346.51,769.88 L347.62,769.44 L348.76,768.99 L349.92,768.52 L351.1,768.04 L352.28,767.56 L353.47,767.06 L354.66,766.57 L355.83,766.07 L356.99,765.57 L358.12,765.08 L359.23,764.59 L360.34,764.1 L361.45,763.61 L362.56,763.12 L363.68,762.62 L364.8,762.11 L365.92,761.59 L367.04,761.07 L368.17,760.54 L369.29,759.99 L370.42,759.43 L371.56,758.86 L372.69,758.27 L373.82,757.67 L374.94,757.07 L376.06,756.46 L377.18,755.84 L378.31,755.21 L379.43,754.57 L380.56,753.92 L381.69,753.25 L382.82,752.57 L383.95,751.88 L385.09,751.17 L386.23,750.44 L387.36,749.68 L388.5,748.91 L389.64,748.12 L390.76,747.32 L391.88,746.52 L393,745.7 L394.13,744.86 L395.26,744.01 L396.39,743.14 L397.52,742.25 L398.66,741.34 L399.79,740.4 L400.93,739.43 L402.07,738.44 L403.21,737.41 L404.35,736.35 L405.49,735.26 L406.64,734.12 L407.81,732.94 L408.99,731.7 L410.17,730.44 L411.35,729.14 L412.53,727.83 L413.7,726.5 L414.85,725.16 L415.99,723.83 L417.1,722.5 L418.19,721.19 L419.24,719.91 L420.25,718.65 L421.23,717.43 L422.14,716.26 L423.01,715.14 L423.82,714.05 L424.6,713 L425.35,711.96 L426.07,710.92 L426.78,709.89 L427.49,708.84 L428.2,707.76 L428.92,706.65 L429.67,705.49 L430.45,704.27 L431.26,702.98 L432.12,701.62 L433.03,700.22 L433.97,698.79 L434.95,697.31 L435.97,695.79 L437.02,694.22 L438.09,692.6 L439.17,690.92 L440.26,689.17 L441.36,687.36 L442.45,685.48 L443.53,683.53 L444.6,681.5 L445.64,679.39 L446.64,677.19 L447.64,674.87 L448.65,672.4 L449.67,669.79 L450.69,667.08 L451.71,664.28 L452.72,661.44 L453.7,658.57 L454.65,655.7 L455.57,652.86 L456.44,650.08 L457.26,647.39 L458.01,644.8 L458.7,642.36 L459.31,640.08 L459.84,637.95 L460.3,635.93 L460.69,634.02 L461.02,632.2 L461.29,630.46 L461.52,628.79 L461.71,627.17 L461.86,625.59 L461.99,624.05 L462.1,622.51 L462.19,620.98 L462.29,619.44 L462.38,617.86 L462.49,616.23 L462.59,614.49 L462.66,612.64 L462.71,610.73 L462.74,608.79 L462.76,606.83 L462.75,604.88 L462.74,602.97 L462.72,601.12 L462.69,599.36 L462.66,597.71 L462.64,596.19 L462.62,594.84 L462.6,593.68 L462.6,592.73Z"/>
<path fill="#7a2ff8" d="M324.3,773.3 L333.5,756 L345.6,736.4 Q347.8,737.6 347.3,741.5 L338.8,765.5 L341.5,771.3 L353.2,781.6 Q354.4,785.4 351.5,786.6 L326.9,776.6Z"/>
<path fill="#7a2ff8" d="M1460.2,598.48 L1460.1,599.27 L1459.97,600.24 L1459.82,601.36 L1459.65,602.62 L1459.47,603.98 L1459.28,605.44 L1459.08,606.97 L1458.87,608.55 L1458.65,610.16 L1458.44,611.77 L1458.22,613.36 L1458.01,614.92 L1457.8,616.42 L1457.61,617.85 L1457.43,619.22 L1457.29,620.53 L1457.17,621.79 L1457.07,623 L1456.98,624.19 L1456.88,625.37 L1456.77,626.56 L1456.64,627.79 L1456.47,629.07 L1456.27,630.43 L1456.02,631.88 L1455.71,633.45 L1455.33,635.15 L1454.87,637.02 L1454.33,639.09 L1453.71,641.36 L1453.03,643.8 L1452.3,646.38 L1451.51,649.06 L1450.69,651.82 L1449.82,654.62 L1448.93,657.44 L1448.02,660.24 L1447.1,663 L1446.17,665.68 L1445.23,668.25 L1444.31,670.69 L1443.41,672.95 L1442.5,675.07 L1441.56,677.13 L1440.6,679.13 L1439.61,681.07 L1438.61,682.97 L1437.59,684.82 L1436.57,686.62 L1435.54,688.39 L1434.5,690.13 L1433.47,691.84 L1432.45,693.53 L1431.43,695.2 L1430.43,696.86 L1429.46,698.51 L1428.51,700.1 L1427.6,701.63 L1426.71,703.12 L1425.83,704.56 L1424.96,705.96 L1424.1,707.34 L1423.24,708.68 L1422.38,710.01 L1421.52,711.32 L1420.65,712.62 L1419.76,713.91 L1418.85,715.21 L1417.93,716.52 L1416.97,717.84 L1415.99,719.18 L1414.99,720.53 L1413.98,721.89 L1412.96,723.24 L1411.93,724.58 L1410.89,725.91 L1409.84,727.22 L1408.79,728.52 L1407.73,729.79 L1406.67,731.03 L1405.6,732.24 L1404.54,733.4 L1403.47,734.53 L1402.41,735.61 L1401.34,736.64 L1400.26,737.64 L1399.17,738.6 L1398.07,739.54 L1396.95,740.46 L1395.82,741.35 L1394.69,742.22 L1393.54,743.08 L1392.39,743.92 L1391.23,744.76 L1390.07,745.58 L1388.91,746.4 L1387.75,747.21 L1386.59,748.02 L1385.45,748.82 L1384.31,749.6 L1383.17,750.37 L1382.03,751.12 L1380.89,751.87 L1379.76,752.59 L1378.63,753.3 L1377.5,754 L1376.37,754.67 L1375.25,755.33 L1374.13,755.97 L1373.02,756.59 L1371.92,757.19 L1370.83,757.76 L1369.75,758.3 L1368.69,758.8 L1367.63,759.28 L1366.56,759.74 L1365.49,760.18 L1364.41,760.61 L1363.33,761.03 L1362.24,761.44 L1361.14,761.86 L1360.03,762.28 L1358.92,762.7 L1357.79,763.14 L1356.65,763.59 L1355.51,764.06 L1354.36,764.55 L1353.19,765.05 L1352.01,765.56 L1350.81,766.07 L1349.61,766.59 L1348.41,767.11 L1347.23,767.63 L1346.06,768.13 L1344.93,768.62 L1343.83,769.09 L1342.78,769.54 L1341.78,769.97 L1340.84,770.36 L1339.98,770.71 L1339.17,771.04 L1338.39,771.34 L1337.64,771.63 L1336.93,771.9 L1336.25,772.15 L1335.61,772.38 L1335,772.6 L1334.43,772.8 L1333.9,772.98 L1333.41,773.15 L1332.95,773.31 L1332.52,773.46 L1332.13,773.59 L1331.8,773.71 L1334.2,780.29 L1334.51,780.17 L1334.85,780.05 L1335.25,779.91 L1335.71,779.75 L1336.21,779.57 L1336.76,779.37 L1337.36,779.15 L1338,778.92 L1338.67,778.67 L1339.39,778.39 L1340.15,778.1 L1340.94,777.78 L1341.77,777.45 L1342.62,777.09 L1343.53,776.7 L1344.5,776.27 L1345.51,775.82 L1346.58,775.34 L1347.68,774.84 L1348.82,774.33 L1349.97,773.8 L1351.15,773.26 L1352.33,772.72 L1353.52,772.18 L1354.69,771.65 L1355.85,771.13 L1356.99,770.62 L1358.09,770.14 L1359.16,769.68 L1360.23,769.23 L1361.31,768.8 L1362.39,768.37 L1363.48,767.94 L1364.58,767.51 L1365.69,767.07 L1366.82,766.62 L1367.95,766.15 L1369.09,765.67 L1370.25,765.16 L1371.42,764.62 L1372.59,764.05 L1373.77,763.44 L1374.95,762.81 L1376.11,762.17 L1377.28,761.51 L1378.46,760.83 L1379.63,760.13 L1380.81,759.42 L1381.99,758.68 L1383.16,757.94 L1384.34,757.18 L1385.52,756.4 L1386.7,755.61 L1387.87,754.81 L1389.05,754 L1390.21,753.18 L1391.37,752.36 L1392.53,751.53 L1393.71,750.7 L1394.89,749.85 L1396.08,748.99 L1397.28,748.11 L1398.48,747.2 L1399.68,746.27 L1400.88,745.31 L1402.07,744.32 L1403.27,743.3 L1404.45,742.24 L1405.63,741.13 L1406.79,739.99 L1407.94,738.81 L1409.08,737.59 L1410.21,736.33 L1411.32,735.04 L1412.43,733.72 L1413.53,732.38 L1414.61,731.03 L1415.68,729.65 L1416.74,728.27 L1417.79,726.88 L1418.82,725.49 L1419.84,724.11 L1420.84,722.73 L1421.83,721.36 L1422.8,720 L1423.75,718.65 L1424.68,717.3 L1425.59,715.96 L1426.49,714.61 L1427.38,713.26 L1428.26,711.89 L1429.14,710.51 L1430.01,709.1 L1430.9,707.66 L1431.79,706.18 L1432.69,704.66 L1433.61,703.1 L1434.54,701.49 L1435.49,699.87 L1436.47,698.22 L1437.46,696.55 L1438.48,694.84 L1439.51,693.1 L1440.55,691.31 L1441.59,689.48 L1442.64,687.6 L1443.67,685.66 L1444.7,683.67 L1445.71,681.62 L1446.7,679.5 L1447.66,677.31 L1448.59,675.05 L1449.51,672.67 L1450.44,670.14 L1451.36,667.49 L1452.28,664.73 L1453.18,661.91 L1454.07,659.05 L1454.94,656.18 L1455.77,653.32 L1456.57,650.51 L1457.31,647.78 L1458.01,645.15 L1458.65,642.66 L1459.23,640.33 L1459.73,638.18 L1460.16,636.22 L1460.51,634.39 L1460.8,632.7 L1461.03,631.12 L1461.2,629.64 L1461.33,628.25 L1461.42,626.92 L1461.47,625.65 L1461.51,624.42 L1461.53,623.21 L1461.54,622 L1461.55,620.77 L1461.56,619.5 L1461.59,618.15 L1461.62,616.7 L1461.63,615.16 L1461.62,613.56 L1461.58,611.94 L1461.54,610.3 L1461.48,608.67 L1461.41,607.08 L1461.34,605.53 L1461.27,604.06 L1461.2,602.68 L1461.13,601.41 L1461.07,600.28 L1461.03,599.31 L1461,598.52Z"/>
<path fill="#7a2ff8" d="M1323.2,779 L1332.5,762 L1344.6,742.6 Q1346.8,743.8 1346.2,747.5 L1337.2,771.5 L1338.4,777.8 L1351.7,788.8 Q1352.8,791.8 1349.6,792.6 L1325.8,782.3Z"/>
<path fill="#7a2ff8" d="M782.9,664.03 L782.91,664.56 L782.91,665.21 L782.9,665.96 L782.89,666.8 L782.88,667.73 L782.87,668.71 L782.87,669.74 L782.88,670.81 L782.89,671.91 L782.92,673.01 L782.97,674.11 L783.03,675.19 L783.11,676.24 L783.22,677.23 L783.32,678.14 L783.41,678.99 L783.5,679.8 L783.59,680.6 L783.69,681.4 L783.8,682.21 L783.94,683.06 L784.11,683.95 L784.33,684.89 L784.59,685.91 L784.9,687 L785.27,688.2 L785.71,689.51 L786.21,690.93 L786.78,692.49 L787.39,694.2 L788.04,696.04 L788.75,698 L789.51,700.05 L790.32,702.18 L791.17,704.36 L792.08,706.57 L793.04,708.78 L794.05,710.99 L795.11,713.17 L796.23,715.29 L797.4,717.35 L798.63,719.3 L799.91,721.18 L801.24,723.03 L802.62,724.87 L804.07,726.69 L805.56,728.48 L807.1,730.24 L808.68,731.98 L810.3,733.69 L811.96,735.35 L813.66,736.98 L815.38,738.57 L817.14,740.12 L818.91,741.61 L820.71,743.06 L822.58,744.47 L824.53,745.84 L826.53,747.16 L828.59,748.44 L830.68,749.68 L832.8,750.87 L834.92,752.02 L837.04,753.13 L839.15,754.19 L841.22,755.22 L843.26,756.2 L845.24,757.14 L847.15,758.04 L848.99,758.9 L850.81,759.73 L852.63,760.51 L854.45,761.24 L856.24,761.93 L858.01,762.58 L859.75,763.19 L861.43,763.75 L863.07,764.28 L864.65,764.78 L866.16,765.24 L867.59,765.67 L868.93,766.07 L870.18,766.45 L871.34,766.8 L872.44,767.13 L873.47,767.41 L874.42,767.65 L875.3,767.85 L876.11,768.02 L876.85,768.15 L877.53,768.26 L878.15,768.35 L878.7,768.42 L879.2,768.48 L879.63,768.53 L880,768.57 L880.3,768.61 L880.6,768.66 L881.4,764.14 L881.03,764.07 L880.6,764.01 L880.18,763.95 L879.74,763.9 L879.27,763.85 L878.77,763.78 L878.23,763.7 L877.64,763.61 L876.99,763.49 L876.28,763.34 L875.49,763.16 L874.63,762.95 L873.7,762.7 L872.66,762.4 L871.5,762.05 L870.23,761.68 L868.88,761.29 L867.46,760.87 L865.98,760.43 L864.43,759.96 L862.83,759.46 L861.18,758.93 L859.5,758.36 L857.79,757.75 L856.06,757.1 L854.32,756.41 L852.57,755.68 L850.81,754.9 L849,754.06 L847.09,753.18 L845.13,752.27 L843.12,751.31 L841.07,750.32 L839,749.29 L836.93,748.22 L834.86,747.11 L832.81,745.97 L830.79,744.79 L828.81,743.58 L826.9,742.34 L825.05,741.06 L823.29,739.74 L821.56,738.37 L819.85,736.95 L818.16,735.47 L816.49,733.96 L814.86,732.4 L813.25,730.8 L811.68,729.17 L810.15,727.51 L808.66,725.82 L807.22,724.11 L805.82,722.37 L804.48,720.62 L803.19,718.86 L801.97,717.1 L800.81,715.29 L799.69,713.37 L798.61,711.37 L797.58,709.3 L796.58,707.18 L795.63,705.05 L794.73,702.9 L793.86,700.78 L793.04,698.7 L792.26,696.69 L791.53,694.75 L790.84,692.93 L790.19,691.22 L789.59,689.67 L789.05,688.29 L788.6,687.06 L788.22,685.95 L787.89,684.95 L787.62,684.03 L787.38,683.18 L787.18,682.38 L787.01,681.61 L786.85,680.86 L786.69,680.11 L786.53,679.33 L786.37,678.52 L786.19,677.67 L785.98,676.77 L785.76,675.82 L785.55,674.84 L785.33,673.81 L785.12,672.76 L784.91,671.7 L784.71,670.64 L784.52,669.59 L784.33,668.58 L784.16,667.62 L784,666.71 L783.85,665.88 L783.71,665.14 L783.6,664.5 L783.5,663.97Z"/>
<path fill="#7a2ff8" d="M865.84,745.18 L866.24,745.87 L866.77,746.8 L867.41,747.9 L868.13,749.13 L868.89,750.39 L869.65,751.64 L870.45,752.91 L871.31,754.27 L872.22,755.69 L873.18,757.15 L874.18,758.61 L875.2,760.03 L876.32,761.5 L877.56,763.06 L878.82,764.59 L880,765.99 L880.99,767.17 L881.7,768.03 L885.5,764.77 L884.76,763.93 L883.73,762.78 L882.53,761.41 L881.24,759.95 L879.96,758.5 L878.8,757.17 L877.72,755.9 L876.63,754.58 L875.54,753.26 L874.45,751.95 L873.39,750.71 L872.35,749.56 L871.29,748.49 L870.2,747.45 L869.14,746.5 L868.17,745.65 L867.36,744.94 L866.76,744.42Z"/>
<path fill="#7a2ff8" d="M866.97,776.91 L867.59,776.71 L868.45,776.43 L869.48,776.1 L870.6,775.72 L871.73,775.32 L872.81,774.9 L873.84,774.45 L874.89,773.98 L875.95,773.48 L877.02,772.96 L878.08,772.43 L879.13,771.89 L880.22,771.3 L881.39,770.66 L882.54,770.01 L883.6,769.4 L884.49,768.88 L885.13,768.52 L882.47,764.28 L881.86,764.7 L881.01,765.28 L880.01,765.97 L878.94,766.7 L877.87,767.44 L876.87,768.11 L875.93,768.74 L874.97,769.38 L874,770.02 L873.04,770.66 L872.09,771.29 L871.19,771.9 L870.27,772.55 L869.31,773.24 L868.37,773.93 L867.5,774.56 L866.77,775.1 L866.23,775.49Z"/>
<circle cx="882.6" cy="766.4" r="2.6" fill="#7a2ff8"/>
<path fill="#7a2ff8" d="M862.38,924.91 L861.77,924.69 L861.02,924.44 L860.16,924.14 L859.19,923.81 L858.13,923.45 L857.01,923.06 L855.83,922.65 L854.61,922.22 L853.37,921.78 L852.13,921.33 L850.89,920.87 L849.69,920.4 L848.53,919.94 L847.41,919.47 L846.33,919.03 L845.27,918.62 L844.24,918.24 L843.24,917.87 L842.25,917.5 L841.26,917.13 L840.27,916.72 L839.26,916.29 L838.23,915.8 L837.16,915.24 L836.03,914.61 L834.84,913.89 L833.58,913.05 L832.22,912.09 L830.73,911 L829.11,909.79 L827.39,908.49 L825.58,907.11 L823.71,905.65 L821.81,904.12 L819.89,902.53 L817.98,900.89 L816.1,899.21 L814.27,897.5 L812.51,895.78 L810.86,894.04 L809.32,892.31 L807.92,890.59 L806.62,888.83 L805.38,886.96 L804.19,885.01 L803.05,882.99 L801.95,880.93 L800.91,878.83 L799.92,876.72 L798.98,874.61 L798.09,872.53 L797.24,870.49 L796.44,868.5 L795.69,866.59 L794.98,864.78 L794.32,863.09 L793.73,861.52 L793.22,860 L792.77,858.52 L792.38,857.08 L792.04,855.68 L791.75,854.34 L791.5,853.04 L791.27,851.8 L791.08,850.62 L790.9,849.49 L790.74,848.42 L790.58,847.41 L790.42,846.46 L790.26,845.59 L790.12,844.86 L790.01,844.27 L789.94,843.77 L789.89,843.38 L789.86,843.06 L789.84,842.83 L789.84,842.66 L789.84,842.53 L789.85,842.43 L789.86,842.31 L789.88,842.16 L789.9,841.93 L789.91,841.64 L789.9,841.4 L785.7,841.6 L785.71,841.67 L785.71,841.65 L785.7,841.7 L785.68,841.83 L785.66,842.03 L785.63,842.3 L785.62,842.62 L785.63,842.98 L785.65,843.39 L785.69,843.85 L785.76,844.38 L785.86,844.97 L785.98,845.66 L786.14,846.41 L786.31,847.22 L786.47,848.11 L786.64,849.09 L786.82,850.16 L787.02,851.31 L787.25,852.53 L787.5,853.83 L787.8,855.2 L788.13,856.62 L788.52,858.1 L788.96,859.64 L789.47,861.22 L790.04,862.86 L790.68,864.51 L791.37,866.21 L792.11,868.03 L792.89,869.94 L793.71,871.95 L794.6,874.02 L795.53,876.14 L796.51,878.3 L797.56,880.47 L798.66,882.63 L799.81,884.78 L801.03,886.89 L802.32,888.94 L803.66,890.92 L805.08,892.81 L806.61,894.64 L808.26,896.46 L810.01,898.27 L811.86,900.05 L813.77,901.79 L815.72,903.5 L817.69,905.16 L819.67,906.76 L821.63,908.3 L823.55,909.77 L825.4,911.15 L827.17,912.44 L828.83,913.62 L830.38,914.71 L831.83,915.68 L833.21,916.54 L834.52,917.29 L835.77,917.94 L836.96,918.5 L838.11,918.99 L839.22,919.41 L840.29,919.79 L841.34,920.13 L842.38,920.44 L843.41,920.75 L844.44,921.05 L845.49,921.37 L846.59,921.73 L847.76,922.1 L848.99,922.47 L850.27,922.82 L851.57,923.15 L852.87,923.47 L854.17,923.77 L855.43,924.05 L856.66,924.31 L857.83,924.56 L858.92,924.79 L859.92,924.99 L860.82,925.18 L861.59,925.34 L862.22,925.49Z"/>
<path fill="#7a2ff8" d="M779.36,851.22 L779.79,850.83 L780.39,850.28 L781.1,849.63 L781.86,848.93 L782.61,848.22 L783.28,847.56 L783.88,846.94 L784.47,846.31 L785.05,845.68 L785.6,845.06 L786.13,844.47 L786.65,843.9 L787.19,843.31 L787.75,842.69 L788.3,842.08 L788.81,841.51 L789.25,841.03 L789.57,840.67 L786.03,837.73 L785.75,838.1 L785.35,838.61 L784.87,839.22 L784.36,839.9 L783.84,840.61 L783.35,841.3 L782.89,841.99 L782.45,842.7 L782,843.42 L781.57,844.15 L781.14,844.89 L780.72,845.64 L780.28,846.45 L779.8,847.36 L779.32,848.27 L778.88,849.13 L778.51,849.85 L778.24,850.38Z"/>
<path fill="#7a2ff8" d="M804.07,852.88 L803.52,852.26 L802.77,851.39 L801.88,850.37 L800.92,849.27 L799.96,848.19 L799.06,847.21 L798.22,846.31 L797.37,845.42 L796.52,844.55 L795.67,843.69 L794.83,842.85 L793.99,842.03 L793.11,841.18 L792.17,840.29 L791.24,839.42 L790.37,838.63 L789.65,837.96 L789.12,837.47 L786.08,840.93 L786.63,841.39 L787.39,842.02 L788.29,842.78 L789.27,843.59 L790.26,844.41 L791.21,845.17 L792.12,845.9 L793.05,846.64 L794,847.38 L794.97,848.12 L795.95,848.86 L796.94,849.59 L798.01,850.37 L799.2,851.2 L800.39,852.03 L801.51,852.8 L802.45,853.45 L803.13,853.92Z"/>
<circle cx="787.8" cy="840.2" r="2.3" fill="#7a2ff8"/>
<text x="1046.6" y="134.9" font-size="30" font-weight="700" textLength="149.4" lengthAdjust="spacingAndGlyphs" fill="#000" stroke="#000" stroke-width=".45" stroke-linejoin="round">Downtrend</text>
<text x="353.4" y="581" font-size="30" font-weight="700" textLength="198.4" lengthAdjust="spacingAndGlyphs" fill="#000" stroke="#000" stroke-width=".45" stroke-linejoin="round">Sell Entry Area</text>
<text x="1357.6" y="586.8" font-size="30" font-weight="700" textLength="198.4" lengthAdjust="spacingAndGlyphs" fill="#000" stroke="#000" stroke-width=".45" stroke-linejoin="round">Sell Entry Area</text>
<text x="720.4" y="615.7" font-size="30" font-weight="700" textLength="121.2" lengthAdjust="spacingAndGlyphs" fill="#000" stroke="#000" stroke-width=".45" stroke-linejoin="round">Slow CCI</text>
<text x="757" y="652.9" font-size="30" font-weight="700" textLength="58.2" lengthAdjust="spacingAndGlyphs" fill="#000" stroke="#000" stroke-width=".45" stroke-linejoin="round">Line</text>
<text x="843.4" y="907.7" font-size="30" font-weight="700" textLength="134" lengthAdjust="spacingAndGlyphs" fill="#000" stroke="#000" stroke-width=".45" stroke-linejoin="round">Turbo CCI</text>
<text x="885.6" y="944.7" font-size="30" font-weight="700" textLength="57.2" lengthAdjust="spacingAndGlyphs" fill="#000" stroke="#000" stroke-width=".45" stroke-linejoin="round">Line</text>
<path d="M8,82 L15,82 L11.5,86.4Z" fill="#000"/>
<text x="19.5" y="87.6" font-size="10.2" fill="#141414" textLength="48.2" lengthAdjust="spacingAndGlyphs">GBPJPY,H4</text>
<text x="75" y="87.6" font-size="10.2" fill="#141414" textLength="156.6" lengthAdjust="spacingAndGlyphs">194.403 194.747 194.359 194.490</text>
<text x="8" y="686.6" font-size="10.2" fill="#141414" textLength="247.5" lengthAdjust="spacingAndGlyphs">Real Woodie CCI -196.1570 -97.7039 -196.1570 0.0000</text>
<rect x="1869.2" y="107.6" width="2" height="1.2" fill="#666"/>
<text x="1874.2" y="111.9" font-size="10.6" fill="#141414" textLength="36.5" lengthAdjust="spacingAndGlyphs">204.070</text>
<rect x="1869.2" y="146.82" width="2" height="1.2" fill="#666"/>
<text x="1874.2" y="151.12" font-size="10.6" fill="#141414" textLength="36.5" lengthAdjust="spacingAndGlyphs">202.360</text>
<rect x="1869.2" y="186.04" width="2" height="1.2" fill="#666"/>
<text x="1874.2" y="190.34" font-size="10.6" fill="#141414" textLength="36.5" lengthAdjust="spacingAndGlyphs">200.650</text>
<rect x="1869.2" y="225.26" width="2" height="1.2" fill="#666"/>
<text x="1874.2" y="229.56" font-size="10.6" fill="#141414" textLength="36.5" lengthAdjust="spacingAndGlyphs">198.940</text>
<rect x="1869.2" y="264.48" width="2" height="1.2" fill="#666"/>
<text x="1874.2" y="268.78" font-size="10.6" fill="#141414" textLength="36.5" lengthAdjust="spacingAndGlyphs">197.230</text>
<rect x="1869.2" y="303.7" width="2" height="1.2" fill="#666"/>
<text x="1874.2" y="308" font-size="10.6" fill="#141414" textLength="36.5" lengthAdjust="spacingAndGlyphs">195.520</text>
<rect x="1869.2" y="342.92" width="2" height="1.2" fill="#666"/>
<text x="1874.2" y="347.22" font-size="10.6" fill="#141414" textLength="36.5" lengthAdjust="spacingAndGlyphs">193.810</text>
<rect x="1869.2" y="382.14" width="2" height="1.2" fill="#666"/>
<text x="1874.2" y="386.44" font-size="10.6" fill="#141414" textLength="36.5" lengthAdjust="spacingAndGlyphs">192.100</text>
<rect x="1869.2" y="421.36" width="2" height="1.2" fill="#666"/>
<text x="1874.2" y="425.66" font-size="10.6" fill="#141414" textLength="36.5" lengthAdjust="spacingAndGlyphs">190.390</text>
<rect x="1869.2" y="460.58" width="2" height="1.2" fill="#666"/>
<text x="1874.2" y="464.88" font-size="10.6" fill="#141414" textLength="36.5" lengthAdjust="spacingAndGlyphs">188.680</text>
<rect x="1869.2" y="499.8" width="2" height="1.2" fill="#666"/>
<text x="1874.2" y="504.1" font-size="10.6" fill="#141414" textLength="36.5" lengthAdjust="spacingAndGlyphs">186.970</text>
<rect x="1869.2" y="539.02" width="2" height="1.2" fill="#666"/>
<text x="1874.2" y="543.32" font-size="10.6" fill="#141414" textLength="36.5" lengthAdjust="spacingAndGlyphs">185.260</text>
<rect x="1869.2" y="578.24" width="2" height="1.2" fill="#666"/>
<text x="1874.2" y="582.54" font-size="10.6" fill="#141414" textLength="36.5" lengthAdjust="spacingAndGlyphs">183.520</text>
<rect x="1869.2" y="617.46" width="2" height="1.2" fill="#666"/>
<text x="1874.2" y="621.76" font-size="10.6" fill="#141414" textLength="36.5" lengthAdjust="spacingAndGlyphs">181.810</text>
<rect x="1869.2" y="656.68" width="2" height="1.2" fill="#666"/>
<text x="1874.2" y="660.98" font-size="10.6" fill="#141414" textLength="36.5" lengthAdjust="spacingAndGlyphs">180.100</text>
<rect x="1869.8" y="321.8" width="45" height="10" fill="#000"/>
<text x="1874.2" y="330.6" font-size="10.6" fill="#fff" textLength="36.5" lengthAdjust="spacingAndGlyphs">194.490</text>
<text x="1871.6" y="685" font-size="10.6" fill="#141414" textLength="42.6" lengthAdjust="spacingAndGlyphs">230.8476</text>
<rect x="1869.2" y="804" width="2" height="1.2" fill="#666"/>
<text x="1872.6" y="809" font-size="10.6" fill="#141414" textLength="19" lengthAdjust="spacingAndGlyphs">0.00</text>
<text x="1872" y="949" font-size="10.6" fill="#141414" textLength="39.2" lengthAdjust="spacingAndGlyphs">-260.402</text>
<rect x="4.7" y="952" width="1.3" height="2.2" fill="#444"/>
<text x="5.2" y="964.6" font-size="10.6" fill="#141414" textLength="49" lengthAdjust="spacingAndGlyphs">18 Jul 2024</text>
<rect x="81.5" y="952" width="1.3" height="2.2" fill="#444"/>
<text x="81.9" y="964.6" font-size="10.6" fill="#141414" textLength="53.5" lengthAdjust="spacingAndGlyphs">19 Jul 00:00</text>
<rect x="158.3" y="952" width="1.3" height="2.2" fill="#444"/>
<text x="158.7" y="964.6" font-size="10.6" fill="#141414" textLength="53.5" lengthAdjust="spacingAndGlyphs">19 Jul 12:00</text>
<rect x="235.1" y="952" width="1.3" height="2.2" fill="#444"/>
<text x="235.5" y="964.6" font-size="10.6" fill="#141414" textLength="53.5" lengthAdjust="spacingAndGlyphs">22 Jul 00:00</text>
<rect x="311.9" y="952" width="1.3" height="2.2" fill="#444"/>
<text x="312.3" y="964.6" font-size="10.6" fill="#141414" textLength="53.5" lengthAdjust="spacingAndGlyphs">22 Jul 12:00</text>
<rect x="388.7" y="952" width="1.3" height="2.2" fill="#444"/>
<text x="389.1" y="964.6" font-size="10.6" fill="#141414" textLength="53.5" lengthAdjust="spacingAndGlyphs">23 Jul 00:00</text>
<rect x="465.5" y="952" width="1.3" height="2.2" fill="#444"/>
<text x="465.9" y="964.6" font-size="10.6" fill="#141414" textLength="53.5" lengthAdjust="spacingAndGlyphs">23 Jul 12:00</text>
<rect x="542.3" y="952" width="1.3" height="2.2" fill="#444"/>
<text x="542.7" y="964.6" font-size="10.6" fill="#141414" textLength="53.5" lengthAdjust="spacingAndGlyphs">24 Jul 00:00</text>
<rect x="619.1" y="952" width="1.3" height="2.2" fill="#444"/>
<text x="619.5" y="964.6" font-size="10.6" fill="#141414" textLength="53.5" lengthAdjust="spacingAndGlyphs">24 Jul 12:00</text>
<rect x="695.9" y="952" width="1.3" height="2.2" fill="#444"/>
<text x="696.3" y="964.6" font-size="10.6" fill="#141414" textLength="53.5" lengthAdjust="spacingAndGlyphs">25 Jul 00:00</text>
<rect x="772.7" y="952" width="1.3" height="2.2" fill="#444"/>
<text x="773.1" y="964.6" font-size="10.6" fill="#141414" textLength="53.5" lengthAdjust="spacingAndGlyphs">25 Jul 12:00</text>
<rect x="849.5" y="952" width="1.3" height="2.2" fill="#444"/>
<text x="849.9" y="964.6" font-size="10.6" fill="#141414" textLength="53.5" lengthAdjust="spacingAndGlyphs">26 Jul 00:00</text>
<rect x="926.3" y="952" width="1.3" height="2.2" fill="#444"/>
<text x="926.7" y="964.6" font-size="10.6" fill="#141414" textLength="53.5" lengthAdjust="spacingAndGlyphs">26 Jul 12:00</text>
<rect x="1003.1" y="952" width="1.3" height="2.2" fill="#444"/>
<text x="1003.5" y="964.6" font-size="10.6" fill="#141414" textLength="53.5" lengthAdjust="spacingAndGlyphs">29 Jul 00:00</text>
<rect x="1079.9" y="952" width="1.3" height="2.2" fill="#444"/>
<text x="1080.3" y="964.6" font-size="10.6" fill="#141414" textLength="53.5" lengthAdjust="spacingAndGlyphs">29 Jul 12:00</text>
<rect x="1156.7" y="952" width="1.3" height="2.2" fill="#444"/>
<text x="1157.1" y="964.6" font-size="10.6" fill="#141414" textLength="53.5" lengthAdjust="spacingAndGlyphs">30 Jul 00:00</text>
<rect x="1233.5" y="952" width="1.3" height="2.2" fill="#444"/>
<text x="1233.9" y="964.6" font-size="10.6" fill="#141414" textLength="53.5" lengthAdjust="spacingAndGlyphs">30 Jul 12:00</text>
<rect x="1310.3" y="952" width="1.3" height="2.2" fill="#444"/>
<text x="1310.7" y="964.6" font-size="10.6" fill="#141414" textLength="53.5" lengthAdjust="spacingAndGlyphs">31 Jul 00:00</text>
<rect x="1387.1" y="952" width="1.3" height="2.2" fill="#444"/>
<text x="1387.5" y="964.6" font-size="10.6" fill="#141414" textLength="53.5" lengthAdjust="spacingAndGlyphs">31 Jul 12:00</text>
<rect x="1463.9" y="952" width="1.3" height="2.2" fill="#444"/>
<text x="1464.3" y="964.6" font-size="10.6" fill="#141414" textLength="54.6" lengthAdjust="spacingAndGlyphs">1 Aug 00:00</text>
<rect x="1540.7" y="952" width="1.3" height="2.2" fill="#444"/>
<text x="1541.1" y="964.6" font-size="10.6" fill="#141414" textLength="54.6" lengthAdjust="spacingAndGlyphs">1 Aug 12:00</text>
<rect x="1617.5" y="952" width="1.3" height="2.2" fill="#444"/>
<text x="1617.9" y="964.6" font-size="10.6" fill="#141414" textLength="54.6" lengthAdjust="spacingAndGlyphs">2 Aug 00:00</text>
<rect x="1694.3" y="952" width="1.3" height="2.2" fill="#444"/>
<text x="1694.7" y="964.6" font-size="10.6" fill="#141414" textLength="54.6" lengthAdjust="spacingAndGlyphs">2 Aug 12:00</text>
<rect x="1771.1" y="952" width="1.3" height="2.2" fill="#444"/>
<text x="1771.5" y="964.6" font-size="10.6" fill="#141414" textLength="54.6" lengthAdjust="spacingAndGlyphs">5 Aug 00:00</text>
<rect x="1847.9" y="952" width="1.3" height="2.2" fill="#444"/>
<text x="1848.3" y="964.6" font-size="10.6" fill="#141414" textLength="54.6" lengthAdjust="spacingAndGlyphs">5 Aug 12:00</text>
<rect x="0" y="18" width="1920" height="1" fill="#d4d4d4"/>
<rect x="0" y="19" width="1920" height="1" fill="#f8f8f8"/>
<rect x="0" y="45" width="849" height="1" fill="#d0d0d0"/>
<rect x="848" y="20" width="1" height="26" fill="#d0d0d0"/>
<rect x="0" y="46" width="849" height="1" fill="#f7f7f7"/>
<rect x="546" y="47" width="1" height="25" fill="#d0d0d0"/>
<rect x="0" y="0" width="1.3" height="62" fill="#555"/>
<rect x="0" y="60" width="1.7" height="908" fill="#161616"/>
<rect x="4" y="22" width="1" height="21" fill="#c4c4c4"/>
<rect x="4" y="49" width="1" height="22" fill="#c4c4c4"/>
<rect x="5.8" y="-2" width="11" height="8.4" rx="1.2" fill="#eaf2fb" stroke="#6b9bd2" stroke-width="1.6"/><rect x="8.8" y="5.6" width="11.4" height="9" rx="1.2" fill="#eef4fc" stroke="#5b90cf" stroke-width="1.7"/><rect x="8" y="1" width="7" height="2" fill="#7fa9db"/><rect x="11.4" y="9" width="6.4" height="2.4" fill="#8bb2df"/>
<text x="28" y="12.6" font-size="12.2" font-weight="400" fill="#101010" textLength="18.3" lengthAdjust="spacingAndGlyphs">File</text>
<text x="63.6" y="12.6" font-size="12.2" font-weight="400" fill="#101010" textLength="25.8" lengthAdjust="spacingAndGlyphs">View</text>
<text x="106.3" y="12.6" font-size="12.2" font-weight="400" fill="#101010" textLength="28.1" lengthAdjust="spacingAndGlyphs">Insert</text>
<text x="151.6" y="12.6" font-size="12.2" font-weight="400" fill="#101010" textLength="32.8" lengthAdjust="spacingAndGlyphs">Charts</text>
<text x="201.6" y="12.6" font-size="12.2" font-weight="400" fill="#101010" textLength="27.8" lengthAdjust="spacingAndGlyphs">Tools</text>
<text x="246" y="12.6" font-size="12.2" font-weight="400" fill="#101010" textLength="44.2" lengthAdjust="spacingAndGlyphs">Window</text>
<text x="306.9" y="12.6" font-size="12.2" font-weight="400" fill="#101010" textLength="25.6" lengthAdjust="spacingAndGlyphs">Help</text>
<rect x="11" y="25" width="11" height="9" rx="1" fill="#dfe9f5" stroke="#6f93bd" stroke-width="1"/>
<path d="M17,31 h4 v-4 h4 v4 h4 v4 h-4 v4 h-4 v-4 h-4Z" fill="#27b52b" stroke="#14861b" stroke-width=".6"/>
<path d="M32.7,31.5 l5,0 l-2.5,3Z" fill="#111"/>
<rect x="49" y="25" width="12" height="9" rx="1" fill="#dbe7f6" stroke="#5f8fcf" stroke-width="1.1"/><rect x="52.5" y="29.5" width="12" height="10" rx="1" fill="#e6eefa" stroke="#5f8fcf" stroke-width="1.1"/><rect x="55" y="34" width="7" height="1.4" fill="#5f8fcf"/>
<path d="M70.1,31.5 l5,0 l-2.5,3Z" fill="#111"/>
<rect x="85" y="22" width="1" height="21" fill="#c9c9c9"/>
<rect x="86" y="22" width="1" height="21" fill="#fbfbfb"/>
<rect x="94" y="25" width="15" height="15" rx="1" fill="#fff" stroke="#7fa8d4" stroke-width="1.4"/><path d="M97,30 l3,-2 l3,3 l-2.2,1.8Z" fill="#2aa637"/><path d="M100.5,34.4 l2.4,-2 l3,3 l-2.4,2Z" fill="#e2622d"/>
<path d="M129,24.4 l7.4,7.6 l-7.4,7.6 l-7.4,-7.6Z" fill="none" stroke="#4b4b4b" stroke-width="1.5"/><circle cx="129" cy="32" r="2.6" fill="none" stroke="#4b4b4b" stroke-width="1.2"/><path d="M129,24 v4 M129,36 v4 M121,32 h4 M133,32 h4" stroke="#4b4b4b" stroke-width="1.2"/>
<path d="M147,25 h5 l2,2.5 h5 v7 h-12Z" fill="#f3d66a" stroke="#c9a227" stroke-width=".8"/><path d="M159,30 l1.9,3.6 l4,.5 l-2.9,2.8 l.8,4 l-3.8,-2 l-3.6,2 l.7,-4 l-2.9,-2.8 l4,-.5Z" fill="#f6d84a" stroke="#b99513" stroke-width=".8"/>
<rect x="175.5" y="25.5" width="15" height="13" fill="#f4f8fd" stroke="#4f86c9" stroke-width="1.4"/><rect x="175.5" y="25.5" width="4" height="13" fill="#3f76c0"/><rect x="175.5" y="25.5" width="15" height="2.6" fill="#7fabe0"/>
<rect x="203" y="24.5" width="9" height="11" fill="#eef2f8" stroke="#97a7bd" stroke-width=".9"/><circle cx="210" cy="32" r="4" fill="#dbe8f8" stroke="#5e7fa8" stroke-width="1.3"/><path d="M213,35.4 l5,4.6" stroke="#b98a2c" stroke-width="2.2" stroke-linecap="round"/>
<rect x="228" y="22" width="1" height="21" fill="#c9c9c9"/>
<rect x="229" y="22" width="1" height="21" fill="#fbfbfb"/>
<path d="M237,24.6 h7 l3.4,3.4 v9.6 h-10.4Z" fill="#f6f6f6" stroke="#9a9a9a" stroke-width=".9"/><path d="M242,33.2 h3.6 v-3.6 h3.8 v3.6 h3.6 v3.8 h-3.6 v3.6 h-3.8 v-3.6 h-3.6Z" fill="#2fb834" stroke="#148a1c" stroke-width=".6"/>
<text x="256.4" y="36.4" font-size="12.2" font-weight="400" fill="#101010" textLength="57.6" lengthAdjust="spacingAndGlyphs">New Order</text>
<path d="M323.6,32 l7.6,-6.6 l9,5.6 l-7.6,8.2Z" fill="#e9b52b" stroke="#a87a12" stroke-width="1"/><path d="M327,31.6 l4.6,-3.6 l5,3.4 l-4.6,4.4Z" fill="#f8dc78"/>
<path d="M352,25 h9 v8 h-9Z" fill="#3b8be0"/><circle cx="359" cy="29" r="3.2" fill="#bfe0ff"/><path d="M351,39.4 q-1,-4.4 3.6,-4.4 q1,-3 4.4,-1.6 q4,-2 5,2 q3.6,.4 2.6,4Z" fill="#e9f0f8" stroke="#5b8fcb" stroke-width="1"/>
<circle cx="386.4" cy="32" r="8" fill="#d9dee2"/><path d="M386.4,32 v8 a8,8 0 0 0 8,-8 a8,8 0 0 0 -3,-6.2Z" fill="#4fa255"/><circle cx="386.4" cy="32" r="8" fill="none" stroke="#9aa3ab" stroke-width="1"/><circle cx="385" cy="32" r="4.6" fill="none" stroke="#8c959d" stroke-width="1"/><circle cx="385.6" cy="32" r="1.6" fill="#2d63b5"/>
<path d="M405,29 q8,-6 16,-.6 l-2,7 q-6,6 -12,.4Z" fill="#f2c84b" stroke="#b88b1b" stroke-width=".8"/><path d="M405,28.6 q8,-6.4 16,-1 l-3,2.6 q-5,-2.6 -10,0Z" fill="#4a9be0"/><circle cx="417.6" cy="36.4" r="4.2" fill="#e53527"/><circle cx="417.6" cy="36.4" r="1.7" fill="#fff"/>
<text x="426.2" y="36.4" font-size="12.2" font-weight="400" fill="#101010" textLength="65.4" lengthAdjust="spacingAndGlyphs">AutoTrading</text>
<rect x="497" y="22" width="1" height="21" fill="#c9c9c9"/>
<rect x="498" y="22" width="1" height="21" fill="#fbfbfb"/>
<rect x="500" y="22" width="1" height="21" fill="#c9c9c9"/>
<rect x="501" y="22" width="1" height="21" fill="#fbfbfb"/>
<path d="M512.6,26 v12.6 M510.2,37.4 h13" stroke="#444" stroke-width="1.3" fill="none"/>
<path d="M518.6,27 v9 M518.6,29 h2.6 M516.4,34 h2.2" stroke="#2a9f3a" stroke-width="1.4" fill="none"/>
<rect x="532.5" y="21" width="24" height="23" fill="#fbfbfb" stroke="#dcdcdc" stroke-width="1"/>
<path d="M540.4,26 v12.6 M538,37.4 h13" stroke="#444" stroke-width="1.3" fill="none"/>
<rect x="544.6" y="27.4" width="4.4" height="7" fill="#27ae3a" stroke="#187c25" stroke-width=".7"/><path d="M546.8,25 v2.4 M546.8,34.4 v2.4" stroke="#187c25" stroke-width="1"/>
<path d="M567.6,26 v12.6 M565.2,37.4 h13" stroke="#444" stroke-width="1.3" fill="none"/>
<path d="M568.6,35 q2,-8 5,-6 q3.4,.6 5.4,6" stroke="#555" stroke-width="1.2" fill="none"/>
<rect x="587" y="22" width="1" height="21" fill="#c9c9c9"/>
<rect x="588" y="22" width="1" height="21" fill="#fbfbfb"/>
<circle cx="601" cy="30.4" r="5.2" fill="#f3f3f3" stroke="#b9b9b9" stroke-width="1.4"/><path d="M598.4,30.4 h5.2 M601,27.8 v5.2" stroke="#b0b0b0" stroke-width="1.3"/><path d="M605,34.6 l5,5" stroke="#c3c3c3" stroke-width="2.2" stroke-linecap="round"/>
<circle cx="628.6" cy="30.4" r="5.2" fill="#e3effb" stroke="#4a86c8" stroke-width="1.5"/><path d="M626,30.4 h5.2" stroke="#3a73b6" stroke-width="1.4"/><path d="M632.6,34.6 l5,5" stroke="#c99b35" stroke-width="2.4" stroke-linecap="round"/>
<rect x="649.5" y="24.5" width="7.4" height="6.6" fill="#3f9a33"/><rect x="658.6" y="24.5" width="7.4" height="6.6" fill="#2b62c2"/><rect x="649.5" y="32.8" width="7.4" height="6.6" fill="#2b62c2"/><rect x="658.6" y="32.8" width="7.4" height="6.6" fill="#3f9a33"/><rect x="651" y="27.4" width="4.4" height="2" fill="#eaf5e6"/><rect x="660" y="27.4" width="4.4" height="2" fill="#e6f0fb"/><rect x="651" y="35.8" width="4.4" height="2" fill="#e6f0fb"/><rect x="660" y="35.8" width="4.4" height="2" fill="#eaf5e6"/>
<rect x="674" y="22" width="1" height="21" fill="#c9c9c9"/>
<rect x="675" y="22" width="1" height="21" fill="#fbfbfb"/>
<path d="M686.6,26 v12.6 M684.2,37.4 h13" stroke="#444" stroke-width="1.3" fill="none"/>
<path d="M691,28 l4.4,3 l-4.4,3Z" fill="#2aa43a"/>
<path d="M713,26 v12.6 M710.6,37.4 h13" stroke="#444" stroke-width="1.3" fill="none"/>
<path d="M717.4,26.4 v10" stroke="#444" stroke-width="1.2"/><path d="M720,28.6 l4.2,2.8 l-4.2,2.8Z" fill="#d8652c"/>
<rect x="732.5" y="22" width="1" height="21" fill="#c9c9c9"/>
<rect x="733.5" y="22" width="1" height="21" fill="#fbfbfb"/>
<path d="M742,24.6 h6 l3,3 v8.6 h-9Z" fill="#f6f6f6" stroke="#8a8a8a" stroke-width=".9"/><path d="M745,34 h3.4 v-3.4 h3.6 v3.4 h3.4 v3.6 h-3.4 v3.4 h-3.6 v-3.4 h-3.4Z" fill="#2fb834" stroke="#148a1c" stroke-width=".6"/>
<path d="M761.5,31.5 l5,0 l-2.5,3Z" fill="#111"/>
<circle cx="785.6" cy="32" r="7" fill="#f3f7fc" stroke="#2b62ad" stroke-width="2.6"/><path d="M785.6,28 v4 l3,1.2" stroke="#c9562a" stroke-width="1.3" fill="none"/>
<path d="M799.3,31.5 l5,0 l-2.5,3Z" fill="#111"/>
<rect x="815.6" y="25.4" width="16.4" height="13.4" rx="1" fill="#eaf1fa" stroke="#4b84c9" stroke-width="1.5"/><path d="M818,33.6 l3.6,-3 l3,1.8 l4.6,-3.6" stroke="#c9682c" stroke-width="1.1" fill="none"/><path d="M818,36.4 l3.6,-1.6 l3,1 l4.6,-2" stroke="#5a9a3a" stroke-width="1" fill="none"/>
<path d="M836.7,31.5 l5,0 l-2.5,3Z" fill="#111"/>
<rect x="9.5" y="48.5" width="23" height="23" fill="#fafafa" stroke="#dadada" stroke-width="1"/>
<path d="M15.6,53 l0,11.4 l2.8,-2.6 l2.2,4.8 l1.9,-.9 l-2.2,-4.6 l3.9,-.2Z" fill="#3f3f3f"/>
<path d="M47.4,53.4 v13.6 M40.4,60.2 h14" stroke="#666" stroke-width="1.2"/><rect x="45.6" y="58.4" width="3.6" height="3.6" fill="#f0f0f0"/>
<rect x="62" y="49" width="1" height="22" fill="#c9c9c9"/>
<rect x="63" y="49" width="1" height="22" fill="#fbfbfb"/>
<path d="M79.4,54 v12.4" stroke="#555" stroke-width="1.3"/>
<path d="M101,60.2 h12.4" stroke="#555" stroke-width="1.3"/>
<path d="M128,66.4 l12.4,-12" stroke="#555" stroke-width="1.3"/>
<path d="M154.6,63.6 l10,-9.6 M157.4,66.6 l10,-9.6 M155.4,58 l8,6 M159,55 l8,6" stroke="#555" stroke-width="1.1"/>
<text x="165.6" y="69" font-size="5.6" font-weight="700" fill="#444" textLength="3.4" lengthAdjust="spacingAndGlyphs">E</text>
<path d="M181.6,54.4 h13 M181.6,57.8 h13 M181.6,61.2 h13 M181.6,64.6 h10" stroke="#9a9a9a" stroke-width="1.1" stroke-dasharray="1.6 .8"/>
<text x="192" y="69" font-size="5.6" font-weight="700" fill="#444" textLength="3" lengthAdjust="spacingAndGlyphs">F</text>
<text x="210.6" y="65" font-size="12.4" font-weight="700" fill="#3a3a3a" textLength="9.4" lengthAdjust="spacingAndGlyphs">A</text>
<rect x="237" y="54.6" width="11.4" height="11.4" fill="#f6f6f6" stroke="#8f8f8f" stroke-width="1" stroke-dasharray="1.5 1"/>
<text x="239.4" y="64.6" font-size="10.6" font-weight="700" fill="#3a3a3a" textLength="6.6" lengthAdjust="spacingAndGlyphs">T</text>
<path d="M266,56.8 l2.6,-2.6 l2.6,2.6 l-2.6,2.6Z M272,63.8 l2.6,-2.6 l2.6,2.6 l-2.6,2.6Z" fill="#3d3d3d"/><path d="M267.6,60.4 l4.6,3.4" stroke="#555" stroke-width="1"/>
<path d="M281.7,59.1 l5,0 l-2.5,3Z" fill="#111"/>
<rect x="296" y="49" width="1" height="22" fill="#c9c9c9"/>
<rect x="297" y="49" width="1" height="22" fill="#fbfbfb"/>
<rect x="299" y="49" width="1" height="22" fill="#c9c9c9"/>
<rect x="300" y="49" width="1" height="22" fill="#fbfbfb"/>
<rect x="439.5" y="48.5" width="23" height="23" fill="#fafafa" stroke="#dadada" stroke-width="1"/>
<text x="307" y="63.8" font-size="9.8" font-weight="400" fill="#444" textLength="13.4" lengthAdjust="spacingAndGlyphs">M1</text>
<text x="334.4" y="63.8" font-size="9.8" font-weight="400" fill="#444" textLength="13.2" lengthAdjust="spacingAndGlyphs">M5</text>
<text x="359.6" y="63.8" font-size="9.8" font-weight="400" fill="#444" textLength="18" lengthAdjust="spacingAndGlyphs">M15</text>
<text x="387" y="63.8" font-size="9.8" font-weight="400" fill="#444" textLength="18" lengthAdjust="spacingAndGlyphs">M30</text>
<text x="417" y="63.8" font-size="9.8" font-weight="400" fill="#444" textLength="12" lengthAdjust="spacingAndGlyphs">H1</text>
<text x="443" y="63.8" font-size="9.8" font-weight="400" fill="#444" textLength="13" lengthAdjust="spacingAndGlyphs">H4</text>
<text x="470.6" y="63.8" font-size="9.8" font-weight="400" fill="#444" textLength="12.4" lengthAdjust="spacingAndGlyphs">D1</text>
<text x="498" y="63.8" font-size="9.8" font-weight="400" fill="#444" textLength="15" lengthAdjust="spacingAndGlyphs">W1</text>
<text x="524" y="63.8" font-size="9.8" font-weight="400" fill="#444" textLength="15" lengthAdjust="spacingAndGlyphs">MN</text>
<path d="M1380,0 C1412,2 1442,20 1461,50 L1461,58 Q1463,85.5 1492,85.5 L1752,85.5 Q1781,85.5 1783,58 L1783,50 C1802,20 1832,2 1864,0Z" fill="#f0f0f0"/>
<path d="M1466,78 Q1472,89 1492,89 L1752,89 Q1772,89 1778,78 L1778,72 L1466,72Z" fill="#e9e9e9" opacity=".0"/>
<path d="M1514.5,33.4 L1514.5,14 L1504.4,14 L1504.4,37.5 L1510.4,37.5" fill="none" stroke="#1de6ee" stroke-width="3" stroke-linejoin="miter"/>
<path d="M1519.6,37.5 L1538.4,37.5 L1538.4,28.1 L1524.4,28.1" fill="none" stroke="#1de6ee" stroke-width="3"/>
<path d="M1525.6,27.9 L1504.6,47.9" fill="none" stroke="#1de6ee" stroke-width="5.6"/>
<path d="M1504.4,46.6 L1504.4,55.6 L1513.1,65.7 L1538.4,65.7 L1538.4,54.9 L1514.5,54.9 L1514.5,43" fill="none" stroke="#1de6ee" stroke-width="3"/>
<text x="1551.6" y="54.4" font-size="26.6" fill="#646464" textLength="196.6" lengthAdjust="spacingAndGlyphs" letter-spacing="0.6" stroke="#f0f0f0" stroke-width=".7" paint-order="fill stroke" style="paint-order:fill stroke">Trading Finder</text>
<rect x="1866" y="0" width="54" height="16.4" fill="#fdfdfd"/><rect x="1880.6" y="0" width="1" height="16.4" fill="#f0f0f0"/><rect x="1900.6" y="0" width="1" height="16.4" fill="#f0f0f0"/>
<rect x="1869.4" y="10" width="5" height="1.4" fill="#7a7a7a"/>
<rect x="1888.6" y="7.4" width="4.6" height="4.6" fill="none" stroke="#7a7a7a" stroke-width="1"/><path d="M1890.4,7.2 v-1.6 h4.8 v4.8 h-1.8" fill="none" stroke="#7a7a7a" stroke-width="1"/>
<path d="M1908.6,6.4 l5.2,5.2 M1913.8,6.4 l-5.2,5.2" stroke="#555" stroke-width="1.3"/>
<circle cx="1873.6" cy="29.6" r="3.6" fill="#dbe8f9" stroke="#2f62b8" stroke-width="1.8"/><path d="M1870.8,32.6 l-3.6,3.6" stroke="#2f62b8" stroke-width="2.2" stroke-linecap="round"/>
<path d="M1893,30.4 h9 v7 h-4 l-2.4,2.6 v-2.6 h-2.6Z" fill="#e6e6e6" stroke="#a8a8a8" stroke-width=".9"/>
<circle cx="1905.2" cy="29.6" r="6.2" fill="#e23a22"/>
<text x="1903.2" y="33.4" font-size="10.4" font-weight="700" fill="#fff" textLength="4.2" lengthAdjust="spacingAndGlyphs">1</text>
</g>
</svg>
</body></html>
